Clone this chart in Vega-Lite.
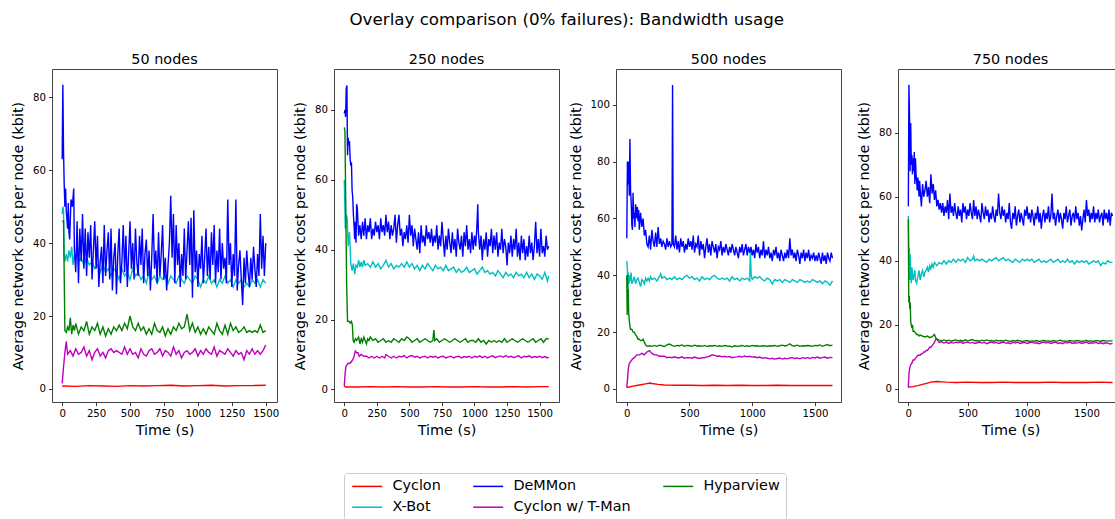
{
"$schema": "https://vega.github.io/schema/vega-lite/v6.json",
"background": "white",
"padding": {"left": 10, "top": 12, "right": 0, "bottom": 0},
"title": {"text": "Overlay comparison (0% failures): Bandwidth usage", "fontSize": 16.7, "font": "DejaVu Sans", "fontWeight": "normal", "color": "#000", "anchor": "middle", "offset": 22},
"datasets": {
"p50": [
{"s":"Cyclon","t":0,"v":0.6},{"s":"Cyclon","t":10,"v":0.8},{"s":"Cyclon","t":100,"v":0.7},{"s":"Cyclon","t":200,"v":0.9},{"s":"Cyclon","t":300,"v":0.8},{"s":"Cyclon","t":400,"v":0.7},{"s":"Cyclon","t":500,"v":0.9},{"s":"Cyclon","t":600,"v":0.8},{"s":"Cyclon","t":700,"v":0.9},{"s":"Cyclon","t":800,"v":1.0},{"s":"Cyclon","t":900,"v":0.8},{"s":"Cyclon","t":1000,"v":0.9},{"s":"Cyclon","t":1100,"v":1.0},{"s":"Cyclon","t":1200,"v":0.8},{"s":"Cyclon","t":1300,"v":0.9},{"s":"Cyclon","t":1400,"v":0.9},{"s":"Cyclon","t":1500,"v":1.0},
{"s":"X-Bot","t":0,"v":48},{"s":"X-Bot","t":5,"v":50},{"s":"X-Bot","t":10,"v":49},{"s":"X-Bot","t":15,"v":36},{"s":"X-Bot","t":20,"v":35},{"s":"X-Bot","t":30,"v":37},{"s":"X-Bot","t":40,"v":35},{"s":"X-Bot","t":50,"v":38},{"s":"X-Bot","t":60,"v":36},{"s":"X-Bot","t":70,"v":39},{"s":"X-Bot","t":80,"v":34},{"s":"X-Bot","t":90,"v":37},{"s":"X-Bot","t":100,"v":36},{"s":"X-Bot","t":110,"v":38},{"s":"X-Bot","t":120,"v":35},{"s":"X-Bot","t":140,"v":36},{"s":"X-Bot","t":160,"v":34},{"s":"X-Bot","t":180,"v":36},{"s":"X-Bot","t":200,"v":34},{"s":"X-Bot","t":220,"v":35},{"s":"X-Bot","t":240,"v":33},{"s":"X-Bot","t":260,"v":34},{"s":"X-Bot","t":280,"v":32},{"s":"X-Bot","t":300,"v":34},{"s":"X-Bot","t":320,"v":32},{"s":"X-Bot","t":340,"v":33},{"s":"X-Bot","t":360,"v":31},{"s":"X-Bot","t":380,"v":33},{"s":"X-Bot","t":400,"v":32},{"s":"X-Bot","t":420,"v":30},{"s":"X-Bot","t":440,"v":33},{"s":"X-Bot","t":460,"v":31},{"s":"X-Bot","t":480,"v":32},{"s":"X-Bot","t":500,"v":30},{"s":"X-Bot","t":520,"v":33},{"s":"X-Bot","t":540,"v":31},{"s":"X-Bot","t":560,"v":32},{"s":"X-Bot","t":580,"v":30},{"s":"X-Bot","t":600,"v":31},{"s":"X-Bot","t":620,"v":29},{"s":"X-Bot","t":640,"v":32},{"s":"X-Bot","t":660,"v":30},{"s":"X-Bot","t":680,"v":31},{"s":"X-Bot","t":700,"v":29},{"s":"X-Bot","t":720,"v":31},{"s":"X-Bot","t":740,"v":30},{"s":"X-Bot","t":760,"v":31},{"s":"X-Bot","t":780,"v":29},{"s":"X-Bot","t":800,"v":31},{"s":"X-Bot","t":820,"v":30},{"s":"X-Bot","t":840,"v":29},{"s":"X-Bot","t":860,"v":31},{"s":"X-Bot","t":880,"v":30},{"s":"X-Bot","t":900,"v":29},{"s":"X-Bot","t":920,"v":31},{"s":"X-Bot","t":940,"v":30},{"s":"X-Bot","t":960,"v":29},{"s":"X-Bot","t":980,"v":31},{"s":"X-Bot","t":1000,"v":30},{"s":"X-Bot","t":1020,"v":28},{"s":"X-Bot","t":1040,"v":30},{"s":"X-Bot","t":1060,"v":29},{"s":"X-Bot","t":1080,"v":31},{"s":"X-Bot","t":1100,"v":29},{"s":"X-Bot","t":1120,"v":30},{"s":"X-Bot","t":1140,"v":28},{"s":"X-Bot","t":1160,"v":30},{"s":"X-Bot","t":1180,"v":29},{"s":"X-Bot","t":1200,"v":31},{"s":"X-Bot","t":1220,"v":29},{"s":"X-Bot","t":1240,"v":30},{"s":"X-Bot","t":1260,"v":28},{"s":"X-Bot","t":1280,"v":30},{"s":"X-Bot","t":1300,"v":29},{"s":"X-Bot","t":1320,"v":30},{"s":"X-Bot","t":1340,"v":28},{"s":"X-Bot","t":1360,"v":29},{"s":"X-Bot","t":1380,"v":28},{"s":"X-Bot","t":1400,"v":30},{"s":"X-Bot","t":1420,"v":29},{"s":"X-Bot","t":1440,"v":30},{"s":"X-Bot","t":1460,"v":28},{"s":"X-Bot","t":1480,"v":30},{"s":"X-Bot","t":1500,"v":29},
{"s":"DeMMon","t":0,"v":63},{"s":"DeMMon","t":5,"v":83.5},{"s":"DeMMon","t":10,"v":65},{"s":"DeMMon","t":15,"v":56},{"s":"DeMMon","t":20,"v":50},{"s":"DeMMon","t":25,"v":55},{"s":"DeMMon","t":30,"v":49},{"s":"DeMMon","t":40,"v":44},{"s":"DeMMon","t":45,"v":51},{"s":"DeMMon","t":50,"v":43},{"s":"DeMMon","t":55,"v":41},{"s":"DeMMon","t":65,"v":52},{"s":"DeMMon","t":75,"v":50},{"s":"DeMMon","t":85,"v":55},{"s":"DeMMon","t":90,"v":38},{"s":"DeMMon","t":100,"v":32},{"s":"DeMMon","t":110,"v":46},{"s":"DeMMon","t":120,"v":29},{"s":"DeMMon","t":130,"v":44},{"s":"DeMMon","t":140,"v":35},{"s":"DeMMon","t":150,"v":48},{"s":"DeMMon","t":160,"v":33},{"s":"DeMMon","t":170,"v":44},{"s":"DeMMon","t":180,"v":31},{"s":"DeMMon","t":190,"v":43},{"s":"DeMMon","t":200,"v":36},{"s":"DeMMon","t":210,"v":45},{"s":"DeMMon","t":220,"v":30},{"s":"DeMMon","t":230,"v":38},{"s":"DeMMon","t":240,"v":46},{"s":"DeMMon","t":250,"v":33},{"s":"DeMMon","t":260,"v":42},{"s":"DeMMon","t":270,"v":28},{"s":"DeMMon","t":280,"v":35},{"s":"DeMMon","t":290,"v":39},{"s":"DeMMon","t":300,"v":29},{"s":"DeMMon","t":310,"v":45},{"s":"DeMMon","t":320,"v":31},{"s":"DeMMon","t":330,"v":38},{"s":"DeMMon","t":340,"v":43},{"s":"DeMMon","t":350,"v":30},{"s":"DeMMon","t":360,"v":44},{"s":"DeMMon","t":370,"v":27},{"s":"DeMMon","t":380,"v":36},{"s":"DeMMon","t":390,"v":40},{"s":"DeMMon","t":400,"v":26},{"s":"DeMMon","t":410,"v":37},{"s":"DeMMon","t":420,"v":44},{"s":"DeMMon","t":430,"v":29},{"s":"DeMMon","t":440,"v":35},{"s":"DeMMon","t":450,"v":45},{"s":"DeMMon","t":460,"v":32},{"s":"DeMMon","t":470,"v":42},{"s":"DeMMon","t":480,"v":28},{"s":"DeMMon","t":490,"v":37},{"s":"DeMMon","t":500,"v":46},{"s":"DeMMon","t":510,"v":33},{"s":"DeMMon","t":520,"v":40},{"s":"DeMMon","t":530,"v":30},{"s":"DeMMon","t":540,"v":44},{"s":"DeMMon","t":550,"v":35},{"s":"DeMMon","t":560,"v":31},{"s":"DeMMon","t":570,"v":42},{"s":"DeMMon","t":580,"v":34},{"s":"DeMMon","t":590,"v":44},{"s":"DeMMon","t":600,"v":29},{"s":"DeMMon","t":610,"v":37},{"s":"DeMMon","t":620,"v":41},{"s":"DeMMon","t":630,"v":31},{"s":"DeMMon","t":640,"v":38},{"s":"DeMMon","t":650,"v":27},{"s":"DeMMon","t":660,"v":36},{"s":"DeMMon","t":670,"v":48},{"s":"DeMMon","t":680,"v":33},{"s":"DeMMon","t":690,"v":38},{"s":"DeMMon","t":700,"v":29},{"s":"DeMMon","t":710,"v":43},{"s":"DeMMon","t":720,"v":31},{"s":"DeMMon","t":730,"v":37},{"s":"DeMMon","t":740,"v":45},{"s":"DeMMon","t":750,"v":30},{"s":"DeMMon","t":760,"v":36},{"s":"DeMMon","t":770,"v":27},{"s":"DeMMon","t":780,"v":34},{"s":"DeMMon","t":790,"v":40},{"s":"DeMMon","t":800,"v":53},{"s":"DeMMon","t":810,"v":36},{"s":"DeMMon","t":820,"v":48},{"s":"DeMMon","t":830,"v":29},{"s":"DeMMon","t":840,"v":45},{"s":"DeMMon","t":850,"v":34},{"s":"DeMMon","t":860,"v":40},{"s":"DeMMon","t":870,"v":28},{"s":"DeMMon","t":880,"v":37},{"s":"DeMMon","t":890,"v":31},{"s":"DeMMon","t":900,"v":44},{"s":"DeMMon","t":910,"v":30},{"s":"DeMMon","t":920,"v":38},{"s":"DeMMon","t":930,"v":46},{"s":"DeMMon","t":940,"v":34},{"s":"DeMMon","t":950,"v":47},{"s":"DeMMon","t":960,"v":25},{"s":"DeMMon","t":970,"v":49},{"s":"DeMMon","t":980,"v":32},{"s":"DeMMon","t":990,"v":38},{"s":"DeMMon","t":1000,"v":28},{"s":"DeMMon","t":1010,"v":37},{"s":"DeMMon","t":1020,"v":33},{"s":"DeMMon","t":1030,"v":42},{"s":"DeMMon","t":1040,"v":29},{"s":"DeMMon","t":1050,"v":36},{"s":"DeMMon","t":1060,"v":44},{"s":"DeMMon","t":1070,"v":31},{"s":"DeMMon","t":1080,"v":39},{"s":"DeMMon","t":1090,"v":30},{"s":"DeMMon","t":1100,"v":43},{"s":"DeMMon","t":1110,"v":34},{"s":"DeMMon","t":1120,"v":45},{"s":"DeMMon","t":1130,"v":29},{"s":"DeMMon","t":1140,"v":38},{"s":"DeMMon","t":1150,"v":32},{"s":"DeMMon","t":1160,"v":44},{"s":"DeMMon","t":1170,"v":30},{"s":"DeMMon","t":1180,"v":40},{"s":"DeMMon","t":1190,"v":33},{"s":"DeMMon","t":1200,"v":36},{"s":"DeMMon","t":1210,"v":29},{"s":"DeMMon","t":1220,"v":52},{"s":"DeMMon","t":1230,"v":34},{"s":"DeMMon","t":1240,"v":40},{"s":"DeMMon","t":1250,"v":28},{"s":"DeMMon","t":1260,"v":37},{"s":"DeMMon","t":1270,"v":31},{"s":"DeMMon","t":1280,"v":52},{"s":"DeMMon","t":1290,"v":27},{"s":"DeMMon","t":1300,"v":34},{"s":"DeMMon","t":1310,"v":38},{"s":"DeMMon","t":1320,"v":30},{"s":"DeMMon","t":1330,"v":23},{"s":"DeMMon","t":1340,"v":36},{"s":"DeMMon","t":1350,"v":29},{"s":"DeMMon","t":1360,"v":38},{"s":"DeMMon","t":1370,"v":32},{"s":"DeMMon","t":1380,"v":28},{"s":"DeMMon","t":1390,"v":36},{"s":"DeMMon","t":1400,"v":30},{"s":"DeMMon","t":1410,"v":39},{"s":"DeMMon","t":1420,"v":33},{"s":"DeMMon","t":1430,"v":28},{"s":"DeMMon","t":1440,"v":37},{"s":"DeMMon","t":1450,"v":31},{"s":"DeMMon","t":1460,"v":48},{"s":"DeMMon","t":1470,"v":33},{"s":"DeMMon","t":1480,"v":42},{"s":"DeMMon","t":1490,"v":31},{"s":"DeMMon","t":1500,"v":40},
{"s":"Cyclon w/ T-Man","t":0,"v":1.5},{"s":"Cyclon w/ T-Man","t":10,"v":6},{"s":"Cyclon w/ T-Man","t":20,"v":10},{"s":"Cyclon w/ T-Man","t":30,"v":13},{"s":"Cyclon w/ T-Man","t":40,"v":9.5},{"s":"Cyclon w/ T-Man","t":60,"v":10.5},{"s":"Cyclon w/ T-Man","t":80,"v":9},{"s":"Cyclon w/ T-Man","t":100,"v":11},{"s":"Cyclon w/ T-Man","t":120,"v":9.5},{"s":"Cyclon w/ T-Man","t":140,"v":10},{"s":"Cyclon w/ T-Man","t":160,"v":11.5},{"s":"Cyclon w/ T-Man","t":180,"v":9},{"s":"Cyclon w/ T-Man","t":200,"v":10.5},{"s":"Cyclon w/ T-Man","t":220,"v":8},{"s":"Cyclon w/ T-Man","t":240,"v":10},{"s":"Cyclon w/ T-Man","t":260,"v":11},{"s":"Cyclon w/ T-Man","t":280,"v":9},{"s":"Cyclon w/ T-Man","t":300,"v":10},{"s":"Cyclon w/ T-Man","t":320,"v":8.5},{"s":"Cyclon w/ T-Man","t":340,"v":10.5},{"s":"Cyclon w/ T-Man","t":360,"v":11},{"s":"Cyclon w/ T-Man","t":380,"v":10},{"s":"Cyclon w/ T-Man","t":400,"v":10.5},{"s":"Cyclon w/ T-Man","t":420,"v":10},{"s":"Cyclon w/ T-Man","t":440,"v":9.5},{"s":"Cyclon w/ T-Man","t":460,"v":11.5},{"s":"Cyclon w/ T-Man","t":480,"v":9.5},{"s":"Cyclon w/ T-Man","t":500,"v":11},{"s":"Cyclon w/ T-Man","t":520,"v":9.5},{"s":"Cyclon w/ T-Man","t":540,"v":10},{"s":"Cyclon w/ T-Man","t":560,"v":8.5},{"s":"Cyclon w/ T-Man","t":580,"v":11},{"s":"Cyclon w/ T-Man","t":600,"v":9.5},{"s":"Cyclon w/ T-Man","t":620,"v":9},{"s":"Cyclon w/ T-Man","t":640,"v":10.5},{"s":"Cyclon w/ T-Man","t":660,"v":11},{"s":"Cyclon w/ T-Man","t":680,"v":9.5},{"s":"Cyclon w/ T-Man","t":700,"v":10},{"s":"Cyclon w/ T-Man","t":720,"v":11},{"s":"Cyclon w/ T-Man","t":740,"v":9},{"s":"Cyclon w/ T-Man","t":760,"v":10.5},{"s":"Cyclon w/ T-Man","t":780,"v":10},{"s":"Cyclon w/ T-Man","t":800,"v":9},{"s":"Cyclon w/ T-Man","t":820,"v":11.5},{"s":"Cyclon w/ T-Man","t":840,"v":9.5},{"s":"Cyclon w/ T-Man","t":860,"v":10.5},{"s":"Cyclon w/ T-Man","t":880,"v":8.5},{"s":"Cyclon w/ T-Man","t":900,"v":10},{"s":"Cyclon w/ T-Man","t":920,"v":10.5},{"s":"Cyclon w/ T-Man","t":940,"v":9.5},{"s":"Cyclon w/ T-Man","t":960,"v":10},{"s":"Cyclon w/ T-Man","t":980,"v":11},{"s":"Cyclon w/ T-Man","t":1000,"v":9},{"s":"Cyclon w/ T-Man","t":1020,"v":10.5},{"s":"Cyclon w/ T-Man","t":1040,"v":9.5},{"s":"Cyclon w/ T-Man","t":1060,"v":11},{"s":"Cyclon w/ T-Man","t":1080,"v":10},{"s":"Cyclon w/ T-Man","t":1100,"v":9.5},{"s":"Cyclon w/ T-Man","t":1120,"v":11.5},{"s":"Cyclon w/ T-Man","t":1140,"v":9},{"s":"Cyclon w/ T-Man","t":1160,"v":10.5},{"s":"Cyclon w/ T-Man","t":1180,"v":10},{"s":"Cyclon w/ T-Man","t":1200,"v":9.5},{"s":"Cyclon w/ T-Man","t":1220,"v":11},{"s":"Cyclon w/ T-Man","t":1240,"v":10},{"s":"Cyclon w/ T-Man","t":1260,"v":9},{"s":"Cyclon w/ T-Man","t":1280,"v":10.5},{"s":"Cyclon w/ T-Man","t":1300,"v":9.5},{"s":"Cyclon w/ T-Man","t":1320,"v":10},{"s":"Cyclon w/ T-Man","t":1340,"v":8},{"s":"Cyclon w/ T-Man","t":1360,"v":10.5},{"s":"Cyclon w/ T-Man","t":1380,"v":9.5},{"s":"Cyclon w/ T-Man","t":1400,"v":11},{"s":"Cyclon w/ T-Man","t":1420,"v":9.5},{"s":"Cyclon w/ T-Man","t":1440,"v":10.5},{"s":"Cyclon w/ T-Man","t":1460,"v":9.5},{"s":"Cyclon w/ T-Man","t":1480,"v":10.5},{"s":"Cyclon w/ T-Man","t":1500,"v":12},
{"s":"Hyparview","t":0,"v":46},{"s":"Hyparview","t":10,"v":46},{"s":"Hyparview","t":20,"v":16},{"s":"Hyparview","t":30,"v":15.5},{"s":"Hyparview","t":40,"v":17},{"s":"Hyparview","t":50,"v":16},{"s":"Hyparview","t":60,"v":19.5},{"s":"Hyparview","t":70,"v":15},{"s":"Hyparview","t":80,"v":17.5},{"s":"Hyparview","t":90,"v":16},{"s":"Hyparview","t":100,"v":18},{"s":"Hyparview","t":120,"v":15},{"s":"Hyparview","t":140,"v":17},{"s":"Hyparview","t":160,"v":16},{"s":"Hyparview","t":180,"v":18.5},{"s":"Hyparview","t":200,"v":15},{"s":"Hyparview","t":220,"v":17},{"s":"Hyparview","t":240,"v":16},{"s":"Hyparview","t":260,"v":18},{"s":"Hyparview","t":280,"v":15},{"s":"Hyparview","t":300,"v":17},{"s":"Hyparview","t":320,"v":14.5},{"s":"Hyparview","t":340,"v":16.5},{"s":"Hyparview","t":360,"v":15},{"s":"Hyparview","t":380,"v":17},{"s":"Hyparview","t":400,"v":16},{"s":"Hyparview","t":420,"v":17.5},{"s":"Hyparview","t":440,"v":16},{"s":"Hyparview","t":460,"v":18},{"s":"Hyparview","t":480,"v":16.5},{"s":"Hyparview","t":500,"v":20},{"s":"Hyparview","t":520,"v":17},{"s":"Hyparview","t":540,"v":16},{"s":"Hyparview","t":560,"v":18},{"s":"Hyparview","t":580,"v":16},{"s":"Hyparview","t":600,"v":17},{"s":"Hyparview","t":620,"v":15},{"s":"Hyparview","t":640,"v":16.5},{"s":"Hyparview","t":660,"v":15},{"s":"Hyparview","t":680,"v":18},{"s":"Hyparview","t":700,"v":16},{"s":"Hyparview","t":720,"v":15.5},{"s":"Hyparview","t":740,"v":17},{"s":"Hyparview","t":760,"v":14.5},{"s":"Hyparview","t":780,"v":16.5},{"s":"Hyparview","t":800,"v":15},{"s":"Hyparview","t":820,"v":17},{"s":"Hyparview","t":840,"v":16},{"s":"Hyparview","t":860,"v":18},{"s":"Hyparview","t":880,"v":16.5},{"s":"Hyparview","t":900,"v":17},{"s":"Hyparview","t":920,"v":20.5},{"s":"Hyparview","t":940,"v":16},{"s":"Hyparview","t":960,"v":18},{"s":"Hyparview","t":980,"v":15.5},{"s":"Hyparview","t":1000,"v":17},{"s":"Hyparview","t":1020,"v":15},{"s":"Hyparview","t":1040,"v":16.5},{"s":"Hyparview","t":1060,"v":15},{"s":"Hyparview","t":1080,"v":17},{"s":"Hyparview","t":1100,"v":16},{"s":"Hyparview","t":1120,"v":15},{"s":"Hyparview","t":1140,"v":18},{"s":"Hyparview","t":1160,"v":16},{"s":"Hyparview","t":1180,"v":15},{"s":"Hyparview","t":1200,"v":17.5},{"s":"Hyparview","t":1220,"v":15},{"s":"Hyparview","t":1240,"v":18},{"s":"Hyparview","t":1260,"v":16},{"s":"Hyparview","t":1280,"v":17},{"s":"Hyparview","t":1300,"v":15.5},{"s":"Hyparview","t":1320,"v":16},{"s":"Hyparview","t":1340,"v":17},{"s":"Hyparview","t":1360,"v":15.5},{"s":"Hyparview","t":1380,"v":16},{"s":"Hyparview","t":1400,"v":15.5},{"s":"Hyparview","t":1420,"v":16},{"s":"Hyparview","t":1440,"v":15.5},{"s":"Hyparview","t":1460,"v":17.5},{"s":"Hyparview","t":1480,"v":15.5},{"s":"Hyparview","t":1500,"v":16}
],
"p250": [
{"s":"Cyclon","t":0,"v":1.0},{"s":"Cyclon","t":10,"v":0.7},{"s":"Cyclon","t":100,"v":0.7},{"s":"Cyclon","t":200,"v":0.8},{"s":"Cyclon","t":300,"v":0.7},{"s":"Cyclon","t":400,"v":0.8},{"s":"Cyclon","t":500,"v":0.7},{"s":"Cyclon","t":600,"v":0.7},{"s":"Cyclon","t":700,"v":0.8},{"s":"Cyclon","t":800,"v":0.7},{"s":"Cyclon","t":900,"v":0.7},{"s":"Cyclon","t":1000,"v":0.8},{"s":"Cyclon","t":1100,"v":0.7},{"s":"Cyclon","t":1200,"v":0.7},{"s":"Cyclon","t":1300,"v":0.8},{"s":"Cyclon","t":1400,"v":0.7},{"s":"Cyclon","t":1500,"v":0.8},{"s":"Cyclon","t":1570,"v":0.8},
{"s":"X-Bot","t":0,"v":60},{"s":"X-Bot","t":8,"v":46},{"s":"X-Bot","t":15,"v":50},{"s":"X-Bot","t":22,"v":49},{"s":"X-Bot","t":30,"v":41},{"s":"X-Bot","t":40,"v":45},{"s":"X-Bot","t":50,"v":36},{"s":"X-Bot","t":60,"v":34},{"s":"X-Bot","t":70,"v":36},{"s":"X-Bot","t":80,"v":33},{"s":"X-Bot","t":90,"v":35.5},{"s":"X-Bot","t":100,"v":35},{"s":"X-Bot","t":110,"v":37},{"s":"X-Bot","t":120,"v":35},{"s":"X-Bot","t":130,"v":36.5},{"s":"X-Bot","t":140,"v":35},{"s":"X-Bot","t":150,"v":37},{"s":"X-Bot","t":160,"v":35.5},{"s":"X-Bot","t":180,"v":36},{"s":"X-Bot","t":200,"v":35},{"s":"X-Bot","t":220,"v":36.5},{"s":"X-Bot","t":240,"v":35},{"s":"X-Bot","t":260,"v":36},{"s":"X-Bot","t":280,"v":34.5},{"s":"X-Bot","t":300,"v":35.5},{"s":"X-Bot","t":320,"v":37},{"s":"X-Bot","t":340,"v":35},{"s":"X-Bot","t":360,"v":36},{"s":"X-Bot","t":380,"v":34.5},{"s":"X-Bot","t":400,"v":35.5},{"s":"X-Bot","t":420,"v":35},{"s":"X-Bot","t":440,"v":36},{"s":"X-Bot","t":460,"v":35},{"s":"X-Bot","t":480,"v":36.5},{"s":"X-Bot","t":500,"v":35},{"s":"X-Bot","t":520,"v":36},{"s":"X-Bot","t":540,"v":34.5},{"s":"X-Bot","t":560,"v":35.5},{"s":"X-Bot","t":580,"v":34},{"s":"X-Bot","t":600,"v":35.5},{"s":"X-Bot","t":620,"v":34.5},{"s":"X-Bot","t":640,"v":36},{"s":"X-Bot","t":660,"v":35},{"s":"X-Bot","t":680,"v":34},{"s":"X-Bot","t":700,"v":35.5},{"s":"X-Bot","t":720,"v":34.5},{"s":"X-Bot","t":740,"v":35},{"s":"X-Bot","t":760,"v":34},{"s":"X-Bot","t":780,"v":35.5},{"s":"X-Bot","t":800,"v":34},{"s":"X-Bot","t":820,"v":34.5},{"s":"X-Bot","t":840,"v":35},{"s":"X-Bot","t":860,"v":33.5},{"s":"X-Bot","t":880,"v":34.5},{"s":"X-Bot","t":900,"v":33.5},{"s":"X-Bot","t":920,"v":34},{"s":"X-Bot","t":940,"v":35},{"s":"X-Bot","t":960,"v":33.5},{"s":"X-Bot","t":980,"v":34},{"s":"X-Bot","t":1000,"v":34.5},{"s":"X-Bot","t":1020,"v":33},{"s":"X-Bot","t":1040,"v":34},{"s":"X-Bot","t":1060,"v":35},{"s":"X-Bot","t":1080,"v":33.5},{"s":"X-Bot","t":1100,"v":34},{"s":"X-Bot","t":1120,"v":33},{"s":"X-Bot","t":1140,"v":33.5},{"s":"X-Bot","t":1160,"v":32.5},{"s":"X-Bot","t":1180,"v":34},{"s":"X-Bot","t":1200,"v":33},{"s":"X-Bot","t":1220,"v":32},{"s":"X-Bot","t":1240,"v":33.5},{"s":"X-Bot","t":1260,"v":32.5},{"s":"X-Bot","t":1280,"v":33},{"s":"X-Bot","t":1300,"v":32},{"s":"X-Bot","t":1320,"v":33.5},{"s":"X-Bot","t":1340,"v":32.5},{"s":"X-Bot","t":1360,"v":33},{"s":"X-Bot","t":1380,"v":32},{"s":"X-Bot","t":1400,"v":33.5},{"s":"X-Bot","t":1420,"v":32},{"s":"X-Bot","t":1440,"v":33},{"s":"X-Bot","t":1460,"v":31.5},{"s":"X-Bot","t":1480,"v":33},{"s":"X-Bot","t":1500,"v":32.5},{"s":"X-Bot","t":1520,"v":31.5},{"s":"X-Bot","t":1540,"v":33.5},{"s":"X-Bot","t":1560,"v":31},{"s":"X-Bot","t":1570,"v":32.5},
{"s":"DeMMon","t":0,"v":79},{"s":"DeMMon","t":5,"v":80},{"s":"DeMMon","t":10,"v":78},{"s":"DeMMon","t":15,"v":86},{"s":"DeMMon","t":20,"v":87},{"s":"DeMMon","t":25,"v":67},{"s":"DeMMon","t":30,"v":72},{"s":"DeMMon","t":35,"v":70},{"s":"DeMMon","t":40,"v":71},{"s":"DeMMon","t":45,"v":66},{"s":"DeMMon","t":50,"v":64},{"s":"DeMMon","t":55,"v":65},{"s":"DeMMon","t":60,"v":57},{"s":"DeMMon","t":65,"v":55},{"s":"DeMMon","t":70,"v":50},{"s":"DeMMon","t":75,"v":47},{"s":"DeMMon","t":80,"v":43},{"s":"DeMMon","t":85,"v":48},{"s":"DeMMon","t":90,"v":42},{"s":"DeMMon","t":95,"v":53},{"s":"DeMMon","t":100,"v":52},{"s":"DeMMon","t":110,"v":44},{"s":"DeMMon","t":120,"v":47},{"s":"DeMMon","t":130,"v":43},{"s":"DeMMon","t":140,"v":48},{"s":"DeMMon","t":150,"v":44},{"s":"DeMMon","t":160,"v":49},{"s":"DeMMon","t":170,"v":43},{"s":"DeMMon","t":180,"v":47},{"s":"DeMMon","t":190,"v":45},{"s":"DeMMon","t":200,"v":49},{"s":"DeMMon","t":210,"v":43},{"s":"DeMMon","t":220,"v":46},{"s":"DeMMon","t":230,"v":44},{"s":"DeMMon","t":240,"v":48},{"s":"DeMMon","t":250,"v":45},{"s":"DeMMon","t":260,"v":47},{"s":"DeMMon","t":270,"v":43},{"s":"DeMMon","t":280,"v":49},{"s":"DeMMon","t":290,"v":45},{"s":"DeMMon","t":300,"v":47},{"s":"DeMMon","t":310,"v":44},{"s":"DeMMon","t":320,"v":50},{"s":"DeMMon","t":330,"v":45},{"s":"DeMMon","t":340,"v":48},{"s":"DeMMon","t":350,"v":43},{"s":"DeMMon","t":360,"v":47},{"s":"DeMMon","t":370,"v":44},{"s":"DeMMon","t":380,"v":46},{"s":"DeMMon","t":390,"v":50},{"s":"DeMMon","t":400,"v":42},{"s":"DeMMon","t":410,"v":47},{"s":"DeMMon","t":420,"v":50},{"s":"DeMMon","t":430,"v":44},{"s":"DeMMon","t":440,"v":46},{"s":"DeMMon","t":450,"v":41},{"s":"DeMMon","t":460,"v":45},{"s":"DeMMon","t":470,"v":43},{"s":"DeMMon","t":480,"v":47},{"s":"DeMMon","t":490,"v":42},{"s":"DeMMon","t":500,"v":50},{"s":"DeMMon","t":510,"v":44},{"s":"DeMMon","t":520,"v":47},{"s":"DeMMon","t":530,"v":41},{"s":"DeMMon","t":540,"v":46},{"s":"DeMMon","t":550,"v":43},{"s":"DeMMon","t":560,"v":40},{"s":"DeMMon","t":570,"v":45},{"s":"DeMMon","t":580,"v":39},{"s":"DeMMon","t":590,"v":47},{"s":"DeMMon","t":600,"v":42},{"s":"DeMMon","t":610,"v":44},{"s":"DeMMon","t":620,"v":41},{"s":"DeMMon","t":630,"v":47},{"s":"DeMMon","t":640,"v":43},{"s":"DeMMon","t":650,"v":45},{"s":"DeMMon","t":660,"v":42},{"s":"DeMMon","t":670,"v":46},{"s":"DeMMon","t":680,"v":41},{"s":"DeMMon","t":690,"v":44},{"s":"DeMMon","t":700,"v":42},{"s":"DeMMon","t":710,"v":47},{"s":"DeMMon","t":720,"v":40},{"s":"DeMMon","t":730,"v":44},{"s":"DeMMon","t":740,"v":41},{"s":"DeMMon","t":750,"v":48},{"s":"DeMMon","t":760,"v":43},{"s":"DeMMon","t":770,"v":38},{"s":"DeMMon","t":780,"v":44},{"s":"DeMMon","t":790,"v":40},{"s":"DeMMon","t":800,"v":46},{"s":"DeMMon","t":810,"v":42},{"s":"DeMMon","t":820,"v":39},{"s":"DeMMon","t":830,"v":45},{"s":"DeMMon","t":840,"v":40},{"s":"DeMMon","t":850,"v":43},{"s":"DeMMon","t":860,"v":38},{"s":"DeMMon","t":870,"v":46},{"s":"DeMMon","t":880,"v":42},{"s":"DeMMon","t":890,"v":40},{"s":"DeMMon","t":900,"v":44},{"s":"DeMMon","t":910,"v":38},{"s":"DeMMon","t":920,"v":45},{"s":"DeMMon","t":930,"v":41},{"s":"DeMMon","t":940,"v":47},{"s":"DeMMon","t":950,"v":40},{"s":"DeMMon","t":960,"v":43},{"s":"DeMMon","t":970,"v":39},{"s":"DeMMon","t":980,"v":45},{"s":"DeMMon","t":990,"v":40},{"s":"DeMMon","t":1000,"v":44},{"s":"DeMMon","t":1010,"v":41},{"s":"DeMMon","t":1020,"v":48},{"s":"DeMMon","t":1025,"v":53},{"s":"DeMMon","t":1030,"v":45},{"s":"DeMMon","t":1040,"v":40},{"s":"DeMMon","t":1050,"v":44},{"s":"DeMMon","t":1060,"v":37},{"s":"DeMMon","t":1070,"v":43},{"s":"DeMMon","t":1080,"v":40},{"s":"DeMMon","t":1090,"v":45},{"s":"DeMMon","t":1100,"v":38},{"s":"DeMMon","t":1110,"v":43},{"s":"DeMMon","t":1120,"v":41},{"s":"DeMMon","t":1130,"v":46},{"s":"DeMMon","t":1140,"v":39},{"s":"DeMMon","t":1150,"v":44},{"s":"DeMMon","t":1160,"v":40},{"s":"DeMMon","t":1170,"v":45},{"s":"DeMMon","t":1180,"v":38},{"s":"DeMMon","t":1190,"v":42},{"s":"DeMMon","t":1200,"v":40},{"s":"DeMMon","t":1210,"v":46},{"s":"DeMMon","t":1220,"v":39},{"s":"DeMMon","t":1230,"v":43},{"s":"DeMMon","t":1240,"v":41},{"s":"DeMMon","t":1250,"v":35.5},{"s":"DeMMon","t":1260,"v":42},{"s":"DeMMon","t":1270,"v":39},{"s":"DeMMon","t":1280,"v":44},{"s":"DeMMon","t":1290,"v":38},{"s":"DeMMon","t":1300,"v":43},{"s":"DeMMon","t":1310,"v":40},{"s":"DeMMon","t":1320,"v":46},{"s":"DeMMon","t":1330,"v":38},{"s":"DeMMon","t":1340,"v":42},{"s":"DeMMon","t":1350,"v":37},{"s":"DeMMon","t":1360,"v":44},{"s":"DeMMon","t":1370,"v":39},{"s":"DeMMon","t":1380,"v":43},{"s":"DeMMon","t":1390,"v":37},{"s":"DeMMon","t":1400,"v":41},{"s":"DeMMon","t":1410,"v":38},{"s":"DeMMon","t":1420,"v":44},{"s":"DeMMon","t":1430,"v":39},{"s":"DeMMon","t":1440,"v":42},{"s":"DeMMon","t":1450,"v":37},{"s":"DeMMon","t":1460,"v":41},{"s":"DeMMon","t":1470,"v":48},{"s":"DeMMon","t":1480,"v":39},{"s":"DeMMon","t":1490,"v":43},{"s":"DeMMon","t":1500,"v":38},{"s":"DeMMon","t":1510,"v":46},{"s":"DeMMon","t":1520,"v":39},{"s":"DeMMon","t":1530,"v":41},{"s":"DeMMon","t":1540,"v":38},{"s":"DeMMon","t":1550,"v":44},{"s":"DeMMon","t":1560,"v":40},{"s":"DeMMon","t":1570,"v":41},
{"s":"Cyclon w/ T-Man","t":0,"v":1},{"s":"Cyclon w/ T-Man","t":5,"v":4},{"s":"Cyclon w/ T-Man","t":12,"v":6.5},{"s":"Cyclon w/ T-Man","t":20,"v":7},{"s":"Cyclon w/ T-Man","t":30,"v":7.5},{"s":"Cyclon w/ T-Man","t":45,"v":7.5},{"s":"Cyclon w/ T-Man","t":55,"v":8},{"s":"Cyclon w/ T-Man","t":65,"v":8.5},{"s":"Cyclon w/ T-Man","t":75,"v":9.5},{"s":"Cyclon w/ T-Man","t":85,"v":11},{"s":"Cyclon w/ T-Man","t":95,"v":10.5},{"s":"Cyclon w/ T-Man","t":105,"v":10.5},{"s":"Cyclon w/ T-Man","t":115,"v":9.5},{"s":"Cyclon w/ T-Man","t":130,"v":10},{"s":"Cyclon w/ T-Man","t":150,"v":9.5},{"s":"Cyclon w/ T-Man","t":170,"v":9.5},{"s":"Cyclon w/ T-Man","t":190,"v":9},{"s":"Cyclon w/ T-Man","t":210,"v":9.5},{"s":"Cyclon w/ T-Man","t":230,"v":9},{"s":"Cyclon w/ T-Man","t":250,"v":9.5},{"s":"Cyclon w/ T-Man","t":270,"v":9},{"s":"Cyclon w/ T-Man","t":290,"v":9.5},{"s":"Cyclon w/ T-Man","t":310,"v":9},{"s":"Cyclon w/ T-Man","t":320,"v":10},{"s":"Cyclon w/ T-Man","t":340,"v":9.5},{"s":"Cyclon w/ T-Man","t":360,"v":9},{"s":"Cyclon w/ T-Man","t":380,"v":9.5},{"s":"Cyclon w/ T-Man","t":400,"v":9},{"s":"Cyclon w/ T-Man","t":420,"v":9.5},{"s":"Cyclon w/ T-Man","t":440,"v":9.3},{"s":"Cyclon w/ T-Man","t":460,"v":9.7},{"s":"Cyclon w/ T-Man","t":480,"v":9},{"s":"Cyclon w/ T-Man","t":500,"v":9.5},{"s":"Cyclon w/ T-Man","t":520,"v":9.7},{"s":"Cyclon w/ T-Man","t":540,"v":9.2},{"s":"Cyclon w/ T-Man","t":560,"v":9.5},{"s":"Cyclon w/ T-Man","t":580,"v":9},{"s":"Cyclon w/ T-Man","t":600,"v":9.3},{"s":"Cyclon w/ T-Man","t":620,"v":9.5},{"s":"Cyclon w/ T-Man","t":640,"v":9},{"s":"Cyclon w/ T-Man","t":660,"v":9.5},{"s":"Cyclon w/ T-Man","t":680,"v":9.2},{"s":"Cyclon w/ T-Man","t":700,"v":9.5},{"s":"Cyclon w/ T-Man","t":720,"v":9},{"s":"Cyclon w/ T-Man","t":740,"v":9.4},{"s":"Cyclon w/ T-Man","t":760,"v":9.5},{"s":"Cyclon w/ T-Man","t":780,"v":9},{"s":"Cyclon w/ T-Man","t":800,"v":9.3},{"s":"Cyclon w/ T-Man","t":820,"v":9.5},{"s":"Cyclon w/ T-Man","t":840,"v":9},{"s":"Cyclon w/ T-Man","t":860,"v":9.4},{"s":"Cyclon w/ T-Man","t":880,"v":9.5},{"s":"Cyclon w/ T-Man","t":900,"v":9},{"s":"Cyclon w/ T-Man","t":920,"v":9.4},{"s":"Cyclon w/ T-Man","t":940,"v":9.2},{"s":"Cyclon w/ T-Man","t":960,"v":9.5},{"s":"Cyclon w/ T-Man","t":980,"v":9},{"s":"Cyclon w/ T-Man","t":1000,"v":9.5},{"s":"Cyclon w/ T-Man","t":1020,"v":9.2},{"s":"Cyclon w/ T-Man","t":1040,"v":9.6},{"s":"Cyclon w/ T-Man","t":1060,"v":9.1},{"s":"Cyclon w/ T-Man","t":1080,"v":9.5},{"s":"Cyclon w/ T-Man","t":1100,"v":9},{"s":"Cyclon w/ T-Man","t":1120,"v":9.4},{"s":"Cyclon w/ T-Man","t":1140,"v":9.6},{"s":"Cyclon w/ T-Man","t":1160,"v":9.1},{"s":"Cyclon w/ T-Man","t":1180,"v":9.4},{"s":"Cyclon w/ T-Man","t":1200,"v":9.6},{"s":"Cyclon w/ T-Man","t":1220,"v":9.2},{"s":"Cyclon w/ T-Man","t":1240,"v":9.7},{"s":"Cyclon w/ T-Man","t":1260,"v":9.2},{"s":"Cyclon w/ T-Man","t":1280,"v":9.5},{"s":"Cyclon w/ T-Man","t":1300,"v":9.1},{"s":"Cyclon w/ T-Man","t":1320,"v":9.4},{"s":"Cyclon w/ T-Man","t":1340,"v":9.6},{"s":"Cyclon w/ T-Man","t":1360,"v":9},{"s":"Cyclon w/ T-Man","t":1380,"v":9.5},{"s":"Cyclon w/ T-Man","t":1400,"v":9.3},{"s":"Cyclon w/ T-Man","t":1420,"v":9.6},{"s":"Cyclon w/ T-Man","t":1440,"v":9.1},{"s":"Cyclon w/ T-Man","t":1460,"v":9.4},{"s":"Cyclon w/ T-Man","t":1480,"v":9.2},{"s":"Cyclon w/ T-Man","t":1500,"v":9.5},{"s":"Cyclon w/ T-Man","t":1520,"v":9.1},{"s":"Cyclon w/ T-Man","t":1540,"v":9.4},{"s":"Cyclon w/ T-Man","t":1560,"v":9},{"s":"Cyclon w/ T-Man","t":1570,"v":9.3},
{"s":"Hyparview","t":0,"v":75},{"s":"Hyparview","t":5,"v":74},{"s":"Hyparview","t":12,"v":50},{"s":"Hyparview","t":18,"v":30},{"s":"Hyparview","t":25,"v":19.5},{"s":"Hyparview","t":35,"v":19.5},{"s":"Hyparview","t":45,"v":19},{"s":"Hyparview","t":55,"v":19.5},{"s":"Hyparview","t":62,"v":18.5},{"s":"Hyparview","t":68,"v":14},{"s":"Hyparview","t":75,"v":13.5},{"s":"Hyparview","t":85,"v":14.5},{"s":"Hyparview","t":95,"v":14},{"s":"Hyparview","t":110,"v":15},{"s":"Hyparview","t":120,"v":13},{"s":"Hyparview","t":130,"v":14.5},{"s":"Hyparview","t":140,"v":13.5},{"s":"Hyparview","t":150,"v":15},{"s":"Hyparview","t":160,"v":14},{"s":"Hyparview","t":170,"v":13},{"s":"Hyparview","t":180,"v":14.5},{"s":"Hyparview","t":190,"v":14},{"s":"Hyparview","t":200,"v":15},{"s":"Hyparview","t":220,"v":14},{"s":"Hyparview","t":240,"v":14.5},{"s":"Hyparview","t":260,"v":13.5},{"s":"Hyparview","t":280,"v":14},{"s":"Hyparview","t":300,"v":14.5},{"s":"Hyparview","t":320,"v":13.5},{"s":"Hyparview","t":340,"v":14},{"s":"Hyparview","t":360,"v":13.5},{"s":"Hyparview","t":380,"v":14.5},{"s":"Hyparview","t":400,"v":14},{"s":"Hyparview","t":420,"v":13.5},{"s":"Hyparview","t":440,"v":14.5},{"s":"Hyparview","t":460,"v":14},{"s":"Hyparview","t":480,"v":15},{"s":"Hyparview","t":500,"v":14.5},{"s":"Hyparview","t":520,"v":13.5},{"s":"Hyparview","t":540,"v":14},{"s":"Hyparview","t":560,"v":14.5},{"s":"Hyparview","t":580,"v":13.5},{"s":"Hyparview","t":600,"v":14},{"s":"Hyparview","t":620,"v":14.5},{"s":"Hyparview","t":640,"v":14},{"s":"Hyparview","t":660,"v":13.5},{"s":"Hyparview","t":680,"v":14},{"s":"Hyparview","t":688,"v":17},{"s":"Hyparview","t":695,"v":14},{"s":"Hyparview","t":710,"v":14.5},{"s":"Hyparview","t":730,"v":13.5},{"s":"Hyparview","t":750,"v":14},{"s":"Hyparview","t":770,"v":14.5},{"s":"Hyparview","t":790,"v":14},{"s":"Hyparview","t":810,"v":13.5},{"s":"Hyparview","t":830,"v":14},{"s":"Hyparview","t":850,"v":14.5},{"s":"Hyparview","t":870,"v":14},{"s":"Hyparview","t":890,"v":13.5},{"s":"Hyparview","t":910,"v":14},{"s":"Hyparview","t":930,"v":14.5},{"s":"Hyparview","t":950,"v":13.5},{"s":"Hyparview","t":970,"v":14},{"s":"Hyparview","t":990,"v":14},{"s":"Hyparview","t":1010,"v":13.5},{"s":"Hyparview","t":1030,"v":14.5},{"s":"Hyparview","t":1050,"v":13.5},{"s":"Hyparview","t":1070,"v":14},{"s":"Hyparview","t":1090,"v":13},{"s":"Hyparview","t":1110,"v":14},{"s":"Hyparview","t":1130,"v":13.5},{"s":"Hyparview","t":1150,"v":14},{"s":"Hyparview","t":1170,"v":13.5},{"s":"Hyparview","t":1190,"v":14},{"s":"Hyparview","t":1210,"v":13.5},{"s":"Hyparview","t":1230,"v":14.5},{"s":"Hyparview","t":1250,"v":13.5},{"s":"Hyparview","t":1270,"v":14},{"s":"Hyparview","t":1290,"v":14.5},{"s":"Hyparview","t":1310,"v":14},{"s":"Hyparview","t":1330,"v":13.5},{"s":"Hyparview","t":1350,"v":14},{"s":"Hyparview","t":1370,"v":14.5},{"s":"Hyparview","t":1390,"v":14},{"s":"Hyparview","t":1410,"v":13.5},{"s":"Hyparview","t":1430,"v":14},{"s":"Hyparview","t":1450,"v":14.5},{"s":"Hyparview","t":1470,"v":13.5},{"s":"Hyparview","t":1490,"v":14},{"s":"Hyparview","t":1510,"v":14.5},{"s":"Hyparview","t":1530,"v":13.5},{"s":"Hyparview","t":1550,"v":14.5},{"s":"Hyparview","t":1570,"v":14.5}
],
"p500": [
{"s":"Cyclon","t":0,"v":0.5},{"s":"Cyclon","t":10,"v":0.6},{"s":"Cyclon","t":50,"v":1.0},{"s":"Cyclon","t":100,"v":1.4},{"s":"Cyclon","t":150,"v":1.8},{"s":"Cyclon","t":185,"v":2.1},{"s":"Cyclon","t":200,"v":1.9},{"s":"Cyclon","t":250,"v":1.6},{"s":"Cyclon","t":300,"v":1.4},{"s":"Cyclon","t":400,"v":1.3},{"s":"Cyclon","t":500,"v":1.3},{"s":"Cyclon","t":600,"v":1.2},{"s":"Cyclon","t":700,"v":1.3},{"s":"Cyclon","t":800,"v":1.2},{"s":"Cyclon","t":900,"v":1.3},{"s":"Cyclon","t":1000,"v":1.2},{"s":"Cyclon","t":1100,"v":1.2},{"s":"Cyclon","t":1200,"v":1.3},{"s":"Cyclon","t":1300,"v":1.2},{"s":"Cyclon","t":1400,"v":1.2},{"s":"Cyclon","t":1500,"v":1.2},{"s":"Cyclon","t":1640,"v":1.2},
{"s":"X-Bot","t":0,"v":45},{"s":"X-Bot","t":5,"v":42},{"s":"X-Bot","t":8,"v":34},{"s":"X-Bot","t":12,"v":41},{"s":"X-Bot","t":18,"v":37},{"s":"X-Bot","t":25,"v":40},{"s":"X-Bot","t":30,"v":38},{"s":"X-Bot","t":35,"v":41},{"s":"X-Bot","t":40,"v":37},{"s":"X-Bot","t":50,"v":38},{"s":"X-Bot","t":60,"v":39.5},{"s":"X-Bot","t":70,"v":37},{"s":"X-Bot","t":80,"v":38.5},{"s":"X-Bot","t":90,"v":39},{"s":"X-Bot","t":100,"v":37.5},{"s":"X-Bot","t":110,"v":36},{"s":"X-Bot","t":120,"v":38.5},{"s":"X-Bot","t":130,"v":38},{"s":"X-Bot","t":140,"v":37},{"s":"X-Bot","t":150,"v":39},{"s":"X-Bot","t":160,"v":38},{"s":"X-Bot","t":170,"v":39},{"s":"X-Bot","t":180,"v":38},{"s":"X-Bot","t":190,"v":39.5},{"s":"X-Bot","t":200,"v":38.5},{"s":"X-Bot","t":220,"v":39},{"s":"X-Bot","t":240,"v":38},{"s":"X-Bot","t":260,"v":39.5},{"s":"X-Bot","t":270,"v":40.5},{"s":"X-Bot","t":280,"v":39},{"s":"X-Bot","t":300,"v":39.5},{"s":"X-Bot","t":320,"v":38.5},{"s":"X-Bot","t":340,"v":39},{"s":"X-Bot","t":360,"v":38.5},{"s":"X-Bot","t":380,"v":39.5},{"s":"X-Bot","t":400,"v":38.5},{"s":"X-Bot","t":420,"v":39},{"s":"X-Bot","t":440,"v":38.5},{"s":"X-Bot","t":460,"v":39.5},{"s":"X-Bot","t":480,"v":40},{"s":"X-Bot","t":500,"v":39},{"s":"X-Bot","t":520,"v":39.5},{"s":"X-Bot","t":540,"v":38.5},{"s":"X-Bot","t":560,"v":39},{"s":"X-Bot","t":580,"v":38},{"s":"X-Bot","t":600,"v":39.5},{"s":"X-Bot","t":620,"v":38.5},{"s":"X-Bot","t":640,"v":39},{"s":"X-Bot","t":660,"v":38.5},{"s":"X-Bot","t":680,"v":39.5},{"s":"X-Bot","t":700,"v":40},{"s":"X-Bot","t":720,"v":39},{"s":"X-Bot","t":740,"v":38.5},{"s":"X-Bot","t":760,"v":39},{"s":"X-Bot","t":780,"v":38.5},{"s":"X-Bot","t":800,"v":39},{"s":"X-Bot","t":820,"v":38},{"s":"X-Bot","t":840,"v":39.5},{"s":"X-Bot","t":860,"v":38.5},{"s":"X-Bot","t":880,"v":39},{"s":"X-Bot","t":900,"v":38},{"s":"X-Bot","t":920,"v":39},{"s":"X-Bot","t":940,"v":38.5},{"s":"X-Bot","t":960,"v":39},{"s":"X-Bot","t":980,"v":38},{"s":"X-Bot","t":985,"v":49},{"s":"X-Bot","t":992,"v":40},{"s":"X-Bot","t":1000,"v":38.5},{"s":"X-Bot","t":1020,"v":39.5},{"s":"X-Bot","t":1040,"v":39},{"s":"X-Bot","t":1060,"v":39.5},{"s":"X-Bot","t":1080,"v":38.5},{"s":"X-Bot","t":1100,"v":38},{"s":"X-Bot","t":1120,"v":39},{"s":"X-Bot","t":1140,"v":38.5},{"s":"X-Bot","t":1160,"v":37},{"s":"X-Bot","t":1180,"v":38.5},{"s":"X-Bot","t":1200,"v":38},{"s":"X-Bot","t":1220,"v":38.5},{"s":"X-Bot","t":1240,"v":37.5},{"s":"X-Bot","t":1260,"v":38.5},{"s":"X-Bot","t":1280,"v":38},{"s":"X-Bot","t":1300,"v":37.5},{"s":"X-Bot","t":1320,"v":38.5},{"s":"X-Bot","t":1340,"v":38},{"s":"X-Bot","t":1360,"v":37.5},{"s":"X-Bot","t":1380,"v":38.5},{"s":"X-Bot","t":1400,"v":38},{"s":"X-Bot","t":1420,"v":37.5},{"s":"X-Bot","t":1440,"v":38},{"s":"X-Bot","t":1460,"v":37.5},{"s":"X-Bot","t":1480,"v":38.5},{"s":"X-Bot","t":1500,"v":38},{"s":"X-Bot","t":1520,"v":37.5},{"s":"X-Bot","t":1540,"v":38},{"s":"X-Bot","t":1560,"v":37},{"s":"X-Bot","t":1580,"v":38},{"s":"X-Bot","t":1600,"v":37.5},{"s":"X-Bot","t":1620,"v":36.5},{"s":"X-Bot","t":1640,"v":38},
{"s":"DeMMon","t":0,"v":53},{"s":"DeMMon","t":5,"v":80},{"s":"DeMMon","t":10,"v":72},{"s":"DeMMon","t":15,"v":80},{"s":"DeMMon","t":20,"v":68},{"s":"DeMMon","t":25,"v":88},{"s":"DeMMon","t":30,"v":70},{"s":"DeMMon","t":35,"v":66},{"s":"DeMMon","t":40,"v":58},{"s":"DeMMon","t":45,"v":56},{"s":"DeMMon","t":50,"v":69},{"s":"DeMMon","t":55,"v":60},{"s":"DeMMon","t":60,"v":62},{"s":"DeMMon","t":65,"v":57},{"s":"DeMMon","t":70,"v":65},{"s":"DeMMon","t":75,"v":63},{"s":"DeMMon","t":80,"v":60},{"s":"DeMMon","t":85,"v":64},{"s":"DeMMon","t":90,"v":59},{"s":"DeMMon","t":95,"v":63},{"s":"DeMMon","t":100,"v":56},{"s":"DeMMon","t":110,"v":62},{"s":"DeMMon","t":120,"v":57},{"s":"DeMMon","t":130,"v":60},{"s":"DeMMon","t":140,"v":54},{"s":"DeMMon","t":150,"v":56},{"s":"DeMMon","t":160,"v":51},{"s":"DeMMon","t":170,"v":50},{"s":"DeMMon","t":180,"v":54},{"s":"DeMMon","t":190,"v":49},{"s":"DeMMon","t":200,"v":56},{"s":"DeMMon","t":210,"v":52},{"s":"DeMMon","t":220,"v":50},{"s":"DeMMon","t":230,"v":55},{"s":"DeMMon","t":240,"v":50},{"s":"DeMMon","t":250,"v":57},{"s":"DeMMon","t":260,"v":51},{"s":"DeMMon","t":270,"v":53},{"s":"DeMMon","t":280,"v":50},{"s":"DeMMon","t":290,"v":52},{"s":"DeMMon","t":300,"v":51},{"s":"DeMMon","t":310,"v":49},{"s":"DeMMon","t":320,"v":53},{"s":"DeMMon","t":330,"v":50},{"s":"DeMMon","t":340,"v":52},{"s":"DeMMon","t":350,"v":50},{"s":"DeMMon","t":360,"v":51},{"s":"DeMMon","t":365,"v":107},{"s":"DeMMon","t":370,"v":51},{"s":"DeMMon","t":380,"v":50},{"s":"DeMMon","t":390,"v":54},{"s":"DeMMon","t":400,"v":49},{"s":"DeMMon","t":410,"v":52},{"s":"DeMMon","t":420,"v":48},{"s":"DeMMon","t":430,"v":53},{"s":"DeMMon","t":440,"v":50},{"s":"DeMMon","t":450,"v":52},{"s":"DeMMon","t":460,"v":48},{"s":"DeMMon","t":470,"v":51},{"s":"DeMMon","t":480,"v":49},{"s":"DeMMon","t":490,"v":53},{"s":"DeMMon","t":500,"v":50},{"s":"DeMMon","t":510,"v":52},{"s":"DeMMon","t":520,"v":49},{"s":"DeMMon","t":530,"v":54},{"s":"DeMMon","t":540,"v":48},{"s":"DeMMon","t":550,"v":51},{"s":"DeMMon","t":560,"v":50},{"s":"DeMMon","t":570,"v":54},{"s":"DeMMon","t":580,"v":47},{"s":"DeMMon","t":590,"v":52},{"s":"DeMMon","t":600,"v":49},{"s":"DeMMon","t":610,"v":51},{"s":"DeMMon","t":620,"v":46},{"s":"DeMMon","t":630,"v":50},{"s":"DeMMon","t":640,"v":53},{"s":"DeMMon","t":650,"v":48},{"s":"DeMMon","t":660,"v":51},{"s":"DeMMon","t":670,"v":47},{"s":"DeMMon","t":680,"v":52},{"s":"DeMMon","t":690,"v":50},{"s":"DeMMon","t":700,"v":48},{"s":"DeMMon","t":710,"v":51},{"s":"DeMMon","t":720,"v":46},{"s":"DeMMon","t":730,"v":50},{"s":"DeMMon","t":740,"v":49},{"s":"DeMMon","t":750,"v":52},{"s":"DeMMon","t":760,"v":47},{"s":"DeMMon","t":770,"v":50},{"s":"DeMMon","t":780,"v":48},{"s":"DeMMon","t":790,"v":51},{"s":"DeMMon","t":800,"v":49},{"s":"DeMMon","t":810,"v":47},{"s":"DeMMon","t":820,"v":50},{"s":"DeMMon","t":830,"v":48},{"s":"DeMMon","t":840,"v":51},{"s":"DeMMon","t":850,"v":49},{"s":"DeMMon","t":860,"v":47},{"s":"DeMMon","t":870,"v":50},{"s":"DeMMon","t":880,"v":48},{"s":"DeMMon","t":890,"v":46},{"s":"DeMMon","t":900,"v":50},{"s":"DeMMon","t":910,"v":48},{"s":"DeMMon","t":920,"v":51},{"s":"DeMMon","t":930,"v":47},{"s":"DeMMon","t":940,"v":49},{"s":"DeMMon","t":950,"v":51},{"s":"DeMMon","t":960,"v":47},{"s":"DeMMon","t":970,"v":50},{"s":"DeMMon","t":980,"v":48},{"s":"DeMMon","t":990,"v":50},{"s":"DeMMon","t":1000,"v":47},{"s":"DeMMon","t":1010,"v":49},{"s":"DeMMon","t":1020,"v":46},{"s":"DeMMon","t":1030,"v":51},{"s":"DeMMon","t":1040,"v":48},{"s":"DeMMon","t":1050,"v":50},{"s":"DeMMon","t":1060,"v":46},{"s":"DeMMon","t":1070,"v":49},{"s":"DeMMon","t":1080,"v":47},{"s":"DeMMon","t":1090,"v":52},{"s":"DeMMon","t":1100,"v":46},{"s":"DeMMon","t":1110,"v":49},{"s":"DeMMon","t":1120,"v":47},{"s":"DeMMon","t":1130,"v":50},{"s":"DeMMon","t":1140,"v":46},{"s":"DeMMon","t":1150,"v":48},{"s":"DeMMon","t":1160,"v":45},{"s":"DeMMon","t":1170,"v":49},{"s":"DeMMon","t":1180,"v":47},{"s":"DeMMon","t":1190,"v":50},{"s":"DeMMon","t":1200,"v":46},{"s":"DeMMon","t":1210,"v":48},{"s":"DeMMon","t":1220,"v":45},{"s":"DeMMon","t":1230,"v":49},{"s":"DeMMon","t":1240,"v":47},{"s":"DeMMon","t":1250,"v":45},{"s":"DeMMon","t":1260,"v":48},{"s":"DeMMon","t":1270,"v":46},{"s":"DeMMon","t":1280,"v":49},{"s":"DeMMon","t":1290,"v":46},{"s":"DeMMon","t":1300,"v":53},{"s":"DeMMon","t":1310,"v":47},{"s":"DeMMon","t":1320,"v":49},{"s":"DeMMon","t":1330,"v":46},{"s":"DeMMon","t":1340,"v":48},{"s":"DeMMon","t":1350,"v":45},{"s":"DeMMon","t":1360,"v":49},{"s":"DeMMon","t":1370,"v":47},{"s":"DeMMon","t":1380,"v":44},{"s":"DeMMon","t":1390,"v":48},{"s":"DeMMon","t":1400,"v":46},{"s":"DeMMon","t":1410,"v":49},{"s":"DeMMon","t":1420,"v":45},{"s":"DeMMon","t":1430,"v":48},{"s":"DeMMon","t":1440,"v":46},{"s":"DeMMon","t":1450,"v":49},{"s":"DeMMon","t":1460,"v":45},{"s":"DeMMon","t":1470,"v":47},{"s":"DeMMon","t":1480,"v":46},{"s":"DeMMon","t":1490,"v":48},{"s":"DeMMon","t":1500,"v":45},{"s":"DeMMon","t":1510,"v":47},{"s":"DeMMon","t":1520,"v":45},{"s":"DeMMon","t":1530,"v":48},{"s":"DeMMon","t":1540,"v":46},{"s":"DeMMon","t":1550,"v":44},{"s":"DeMMon","t":1560,"v":48},{"s":"DeMMon","t":1570,"v":45},{"s":"DeMMon","t":1580,"v":47},{"s":"DeMMon","t":1590,"v":44},{"s":"DeMMon","t":1600,"v":48},{"s":"DeMMon","t":1610,"v":46},{"s":"DeMMon","t":1620,"v":45},{"s":"DeMMon","t":1630,"v":48},{"s":"DeMMon","t":1640,"v":46},
{"s":"Cyclon w/ T-Man","t":0,"v":0.5},{"s":"Cyclon w/ T-Man","t":5,"v":3},{"s":"Cyclon w/ T-Man","t":12,"v":7},{"s":"Cyclon w/ T-Man","t":20,"v":9},{"s":"Cyclon w/ T-Man","t":30,"v":9.5},{"s":"Cyclon w/ T-Man","t":45,"v":10.5},{"s":"Cyclon w/ T-Man","t":60,"v":11},{"s":"Cyclon w/ T-Man","t":80,"v":12},{"s":"Cyclon w/ T-Man","t":100,"v":12},{"s":"Cyclon w/ T-Man","t":120,"v":12.5},{"s":"Cyclon w/ T-Man","t":140,"v":12},{"s":"Cyclon w/ T-Man","t":160,"v":13},{"s":"Cyclon w/ T-Man","t":180,"v":13.5},{"s":"Cyclon w/ T-Man","t":190,"v":13},{"s":"Cyclon w/ T-Man","t":200,"v":12.5},{"s":"Cyclon w/ T-Man","t":220,"v":12},{"s":"Cyclon w/ T-Man","t":240,"v":12},{"s":"Cyclon w/ T-Man","t":260,"v":11.5},{"s":"Cyclon w/ T-Man","t":280,"v":11.5},{"s":"Cyclon w/ T-Man","t":300,"v":11.5},{"s":"Cyclon w/ T-Man","t":320,"v":11},{"s":"Cyclon w/ T-Man","t":340,"v":11.2},{"s":"Cyclon w/ T-Man","t":360,"v":11},{"s":"Cyclon w/ T-Man","t":380,"v":11.3},{"s":"Cyclon w/ T-Man","t":400,"v":11},{"s":"Cyclon w/ T-Man","t":420,"v":11},{"s":"Cyclon w/ T-Man","t":440,"v":11.3},{"s":"Cyclon w/ T-Man","t":460,"v":10.8},{"s":"Cyclon w/ T-Man","t":480,"v":11},{"s":"Cyclon w/ T-Man","t":500,"v":11},{"s":"Cyclon w/ T-Man","t":520,"v":10.8},{"s":"Cyclon w/ T-Man","t":540,"v":11.2},{"s":"Cyclon w/ T-Man","t":560,"v":10.9},{"s":"Cyclon w/ T-Man","t":580,"v":10.7},{"s":"Cyclon w/ T-Man","t":600,"v":11},{"s":"Cyclon w/ T-Man","t":620,"v":11},{"s":"Cyclon w/ T-Man","t":640,"v":11.3},{"s":"Cyclon w/ T-Man","t":660,"v":11.5},{"s":"Cyclon w/ T-Man","t":680,"v":12},{"s":"Cyclon w/ T-Man","t":700,"v":11.8},{"s":"Cyclon w/ T-Man","t":720,"v":11.5},{"s":"Cyclon w/ T-Man","t":740,"v":11.6},{"s":"Cyclon w/ T-Man","t":760,"v":11.3},{"s":"Cyclon w/ T-Man","t":780,"v":11.5},{"s":"Cyclon w/ T-Man","t":800,"v":11.2},{"s":"Cyclon w/ T-Man","t":820,"v":11.4},{"s":"Cyclon w/ T-Man","t":840,"v":11},{"s":"Cyclon w/ T-Man","t":860,"v":11.2},{"s":"Cyclon w/ T-Man","t":880,"v":11.3},{"s":"Cyclon w/ T-Man","t":900,"v":11.5},{"s":"Cyclon w/ T-Man","t":920,"v":11.2},{"s":"Cyclon w/ T-Man","t":940,"v":11.6},{"s":"Cyclon w/ T-Man","t":960,"v":11.3},{"s":"Cyclon w/ T-Man","t":980,"v":11.5},{"s":"Cyclon w/ T-Man","t":1000,"v":11.2},{"s":"Cyclon w/ T-Man","t":1020,"v":11.3},{"s":"Cyclon w/ T-Man","t":1040,"v":11},{"s":"Cyclon w/ T-Man","t":1060,"v":11.2},{"s":"Cyclon w/ T-Man","t":1080,"v":10.8},{"s":"Cyclon w/ T-Man","t":1100,"v":11},{"s":"Cyclon w/ T-Man","t":1120,"v":10.8},{"s":"Cyclon w/ T-Man","t":1140,"v":10.6},{"s":"Cyclon w/ T-Man","t":1160,"v":10.8},{"s":"Cyclon w/ T-Man","t":1180,"v":10.5},{"s":"Cyclon w/ T-Man","t":1200,"v":10.7},{"s":"Cyclon w/ T-Man","t":1220,"v":10.9},{"s":"Cyclon w/ T-Man","t":1240,"v":10.5},{"s":"Cyclon w/ T-Man","t":1260,"v":10.8},{"s":"Cyclon w/ T-Man","t":1280,"v":10.6},{"s":"Cyclon w/ T-Man","t":1300,"v":10.9},{"s":"Cyclon w/ T-Man","t":1320,"v":11},{"s":"Cyclon w/ T-Man","t":1340,"v":10.7},{"s":"Cyclon w/ T-Man","t":1360,"v":10.9},{"s":"Cyclon w/ T-Man","t":1380,"v":10.6},{"s":"Cyclon w/ T-Man","t":1400,"v":11},{"s":"Cyclon w/ T-Man","t":1420,"v":10.8},{"s":"Cyclon w/ T-Man","t":1440,"v":11},{"s":"Cyclon w/ T-Man","t":1460,"v":10.7},{"s":"Cyclon w/ T-Man","t":1480,"v":11.1},{"s":"Cyclon w/ T-Man","t":1500,"v":10.9},{"s":"Cyclon w/ T-Man","t":1520,"v":11.2},{"s":"Cyclon w/ T-Man","t":1540,"v":10.8},{"s":"Cyclon w/ T-Man","t":1560,"v":11},{"s":"Cyclon w/ T-Man","t":1580,"v":11.2},{"s":"Cyclon w/ T-Man","t":1600,"v":10.8},{"s":"Cyclon w/ T-Man","t":1620,"v":11.1},{"s":"Cyclon w/ T-Man","t":1640,"v":11},
{"s":"Hyparview","t":0,"v":40},{"s":"Hyparview","t":3,"v":26},{"s":"Hyparview","t":6,"v":40},{"s":"Hyparview","t":9,"v":30},{"s":"Hyparview","t":12,"v":35},{"s":"Hyparview","t":15,"v":27},{"s":"Hyparview","t":20,"v":24},{"s":"Hyparview","t":25,"v":22},{"s":"Hyparview","t":30,"v":21},{"s":"Hyparview","t":40,"v":21},{"s":"Hyparview","t":50,"v":20},{"s":"Hyparview","t":60,"v":20},{"s":"Hyparview","t":70,"v":19},{"s":"Hyparview","t":80,"v":18.5},{"s":"Hyparview","t":90,"v":17.5},{"s":"Hyparview","t":100,"v":17.5},{"s":"Hyparview","t":110,"v":17},{"s":"Hyparview","t":120,"v":17},{"s":"Hyparview","t":130,"v":17.5},{"s":"Hyparview","t":140,"v":16.5},{"s":"Hyparview","t":150,"v":15.5},{"s":"Hyparview","t":160,"v":15},{"s":"Hyparview","t":180,"v":15.2},{"s":"Hyparview","t":200,"v":15},{"s":"Hyparview","t":220,"v":15.3},{"s":"Hyparview","t":240,"v":15},{"s":"Hyparview","t":260,"v":15.4},{"s":"Hyparview","t":280,"v":15.2},{"s":"Hyparview","t":300,"v":14.9},{"s":"Hyparview","t":320,"v":15.5},{"s":"Hyparview","t":340,"v":15.8},{"s":"Hyparview","t":360,"v":15.3},{"s":"Hyparview","t":380,"v":15},{"s":"Hyparview","t":400,"v":15.3},{"s":"Hyparview","t":420,"v":15.2},{"s":"Hyparview","t":440,"v":15.5},{"s":"Hyparview","t":460,"v":15},{"s":"Hyparview","t":480,"v":15.3},{"s":"Hyparview","t":500,"v":15.2},{"s":"Hyparview","t":520,"v":15},{"s":"Hyparview","t":540,"v":15.4},{"s":"Hyparview","t":560,"v":15.1},{"s":"Hyparview","t":580,"v":15.2},{"s":"Hyparview","t":600,"v":15},{"s":"Hyparview","t":620,"v":15.3},{"s":"Hyparview","t":640,"v":15},{"s":"Hyparview","t":660,"v":15.2},{"s":"Hyparview","t":680,"v":15.1},{"s":"Hyparview","t":700,"v":15.3},{"s":"Hyparview","t":720,"v":15},{"s":"Hyparview","t":740,"v":15.2},{"s":"Hyparview","t":760,"v":15},{"s":"Hyparview","t":780,"v":15.3},{"s":"Hyparview","t":800,"v":15.1},{"s":"Hyparview","t":820,"v":15},{"s":"Hyparview","t":840,"v":14.8},{"s":"Hyparview","t":860,"v":15.2},{"s":"Hyparview","t":880,"v":15},{"s":"Hyparview","t":900,"v":15.1},{"s":"Hyparview","t":920,"v":15.3},{"s":"Hyparview","t":940,"v":15},{"s":"Hyparview","t":960,"v":15.2},{"s":"Hyparview","t":980,"v":15},{"s":"Hyparview","t":1000,"v":15.3},{"s":"Hyparview","t":1020,"v":15.1},{"s":"Hyparview","t":1040,"v":15.2},{"s":"Hyparview","t":1060,"v":15},{"s":"Hyparview","t":1080,"v":15.2},{"s":"Hyparview","t":1100,"v":15.1},{"s":"Hyparview","t":1120,"v":15},{"s":"Hyparview","t":1140,"v":15.2},{"s":"Hyparview","t":1160,"v":15.1},{"s":"Hyparview","t":1180,"v":15.3},{"s":"Hyparview","t":1200,"v":15},{"s":"Hyparview","t":1220,"v":15.2},{"s":"Hyparview","t":1240,"v":15.4},{"s":"Hyparview","t":1260,"v":15.1},{"s":"Hyparview","t":1280,"v":15.3},{"s":"Hyparview","t":1300,"v":15.9},{"s":"Hyparview","t":1320,"v":15.2},{"s":"Hyparview","t":1340,"v":15.1},{"s":"Hyparview","t":1360,"v":15.4},{"s":"Hyparview","t":1380,"v":15},{"s":"Hyparview","t":1400,"v":15.2},{"s":"Hyparview","t":1420,"v":15.1},{"s":"Hyparview","t":1440,"v":15.3},{"s":"Hyparview","t":1460,"v":15.2},{"s":"Hyparview","t":1480,"v":15},{"s":"Hyparview","t":1500,"v":15.3},{"s":"Hyparview","t":1520,"v":15.2},{"s":"Hyparview","t":1540,"v":15.5},{"s":"Hyparview","t":1560,"v":15},{"s":"Hyparview","t":1580,"v":15.3},{"s":"Hyparview","t":1600,"v":15.6},{"s":"Hyparview","t":1620,"v":15.2},{"s":"Hyparview","t":1640,"v":15.4}
],
"p750": [
{"s":"Cyclon","t":0,"v":0.5},{"s":"Cyclon","t":10,"v":0.6},{"s":"Cyclon","t":40,"v":0.7},{"s":"Cyclon","t":80,"v":1.0},{"s":"Cyclon","t":120,"v":1.4},{"s":"Cyclon","t":160,"v":1.8},{"s":"Cyclon","t":200,"v":2.2},{"s":"Cyclon","t":240,"v":2.3},{"s":"Cyclon","t":280,"v":2.2},{"s":"Cyclon","t":320,"v":2.1},{"s":"Cyclon","t":400,"v":2.0},{"s":"Cyclon","t":500,"v":2.1},{"s":"Cyclon","t":600,"v":2.0},{"s":"Cyclon","t":700,"v":2.0},{"s":"Cyclon","t":800,"v":2.1},{"s":"Cyclon","t":900,"v":2.0},{"s":"Cyclon","t":1000,"v":2.0},{"s":"Cyclon","t":1100,"v":2.0},{"s":"Cyclon","t":1200,"v":2.1},{"s":"Cyclon","t":1300,"v":2.0},{"s":"Cyclon","t":1400,"v":2.0},{"s":"Cyclon","t":1500,"v":2.0},{"s":"Cyclon","t":1600,"v":2.1},{"s":"Cyclon","t":1720,"v":2.0},
{"s":"X-Bot","t":0,"v":54},{"s":"X-Bot","t":5,"v":38},{"s":"X-Bot","t":8,"v":44},{"s":"X-Bot","t":12,"v":34},{"s":"X-Bot","t":16,"v":42},{"s":"X-Bot","t":20,"v":36},{"s":"X-Bot","t":25,"v":33},{"s":"X-Bot","t":30,"v":38},{"s":"X-Bot","t":35,"v":36},{"s":"X-Bot","t":40,"v":34},{"s":"X-Bot","t":50,"v":36},{"s":"X-Bot","t":55,"v":37},{"s":"X-Bot","t":60,"v":34},{"s":"X-Bot","t":70,"v":33},{"s":"X-Bot","t":80,"v":35},{"s":"X-Bot","t":90,"v":37},{"s":"X-Bot","t":100,"v":34},{"s":"X-Bot","t":110,"v":36},{"s":"X-Bot","t":120,"v":37},{"s":"X-Bot","t":130,"v":35},{"s":"X-Bot","t":140,"v":36.5},{"s":"X-Bot","t":150,"v":37},{"s":"X-Bot","t":160,"v":38},{"s":"X-Bot","t":170,"v":36.5},{"s":"X-Bot","t":180,"v":38.5},{"s":"X-Bot","t":190,"v":37.5},{"s":"X-Bot","t":200,"v":39},{"s":"X-Bot","t":210,"v":38},{"s":"X-Bot","t":220,"v":39.5},{"s":"X-Bot","t":240,"v":38.5},{"s":"X-Bot","t":260,"v":39.5},{"s":"X-Bot","t":280,"v":39},{"s":"X-Bot","t":300,"v":40},{"s":"X-Bot","t":320,"v":39},{"s":"X-Bot","t":340,"v":40},{"s":"X-Bot","t":360,"v":39.5},{"s":"X-Bot","t":380,"v":40.5},{"s":"X-Bot","t":400,"v":39.5},{"s":"X-Bot","t":420,"v":40.5},{"s":"X-Bot","t":440,"v":40},{"s":"X-Bot","t":460,"v":40.5},{"s":"X-Bot","t":480,"v":39.5},{"s":"X-Bot","t":500,"v":41},{"s":"X-Bot","t":520,"v":40},{"s":"X-Bot","t":540,"v":40.5},{"s":"X-Bot","t":550,"v":41.5},{"s":"X-Bot","t":560,"v":40},{"s":"X-Bot","t":580,"v":40.5},{"s":"X-Bot","t":600,"v":40},{"s":"X-Bot","t":620,"v":40.5},{"s":"X-Bot","t":640,"v":40},{"s":"X-Bot","t":660,"v":39.5},{"s":"X-Bot","t":680,"v":40.5},{"s":"X-Bot","t":700,"v":40},{"s":"X-Bot","t":720,"v":40.5},{"s":"X-Bot","t":740,"v":41},{"s":"X-Bot","t":760,"v":40},{"s":"X-Bot","t":780,"v":40.5},{"s":"X-Bot","t":800,"v":41},{"s":"X-Bot","t":820,"v":40},{"s":"X-Bot","t":840,"v":40.5},{"s":"X-Bot","t":860,"v":40},{"s":"X-Bot","t":880,"v":39.5},{"s":"X-Bot","t":900,"v":40.5},{"s":"X-Bot","t":920,"v":40},{"s":"X-Bot","t":940,"v":39.5},{"s":"X-Bot","t":960,"v":40.5},{"s":"X-Bot","t":980,"v":40},{"s":"X-Bot","t":1000,"v":40.5},{"s":"X-Bot","t":1020,"v":40},{"s":"X-Bot","t":1040,"v":40.5},{"s":"X-Bot","t":1060,"v":39.5},{"s":"X-Bot","t":1080,"v":40},{"s":"X-Bot","t":1100,"v":40.5},{"s":"X-Bot","t":1120,"v":39.5},{"s":"X-Bot","t":1140,"v":40},{"s":"X-Bot","t":1160,"v":39.5},{"s":"X-Bot","t":1180,"v":40},{"s":"X-Bot","t":1200,"v":40.5},{"s":"X-Bot","t":1220,"v":39.5},{"s":"X-Bot","t":1240,"v":40},{"s":"X-Bot","t":1260,"v":40.5},{"s":"X-Bot","t":1280,"v":39.5},{"s":"X-Bot","t":1300,"v":40},{"s":"X-Bot","t":1320,"v":39.5},{"s":"X-Bot","t":1340,"v":40.5},{"s":"X-Bot","t":1360,"v":39.5},{"s":"X-Bot","t":1380,"v":40},{"s":"X-Bot","t":1400,"v":39},{"s":"X-Bot","t":1420,"v":40},{"s":"X-Bot","t":1440,"v":39.5},{"s":"X-Bot","t":1460,"v":40},{"s":"X-Bot","t":1480,"v":39.5},{"s":"X-Bot","t":1500,"v":40},{"s":"X-Bot","t":1520,"v":39},{"s":"X-Bot","t":1540,"v":39.5},{"s":"X-Bot","t":1560,"v":40},{"s":"X-Bot","t":1580,"v":39.5},{"s":"X-Bot","t":1600,"v":40},{"s":"X-Bot","t":1620,"v":38.5},{"s":"X-Bot","t":1640,"v":39.5},{"s":"X-Bot","t":1660,"v":39},{"s":"X-Bot","t":1680,"v":40},{"s":"X-Bot","t":1700,"v":39.5},{"s":"X-Bot","t":1720,"v":39.5},
{"s":"DeMMon","t":0,"v":57},{"s":"DeMMon","t":5,"v":95},{"s":"DeMMon","t":10,"v":85},{"s":"DeMMon","t":15,"v":68},{"s":"DeMMon","t":20,"v":83},{"s":"DeMMon","t":25,"v":70},{"s":"DeMMon","t":30,"v":73},{"s":"DeMMon","t":35,"v":67},{"s":"DeMMon","t":40,"v":72},{"s":"DeMMon","t":45,"v":68},{"s":"DeMMon","t":50,"v":74},{"s":"DeMMon","t":55,"v":64},{"s":"DeMMon","t":60,"v":72},{"s":"DeMMon","t":65,"v":67},{"s":"DeMMon","t":70,"v":65},{"s":"DeMMon","t":75,"v":62},{"s":"DeMMon","t":80,"v":66},{"s":"DeMMon","t":85,"v":64},{"s":"DeMMon","t":90,"v":60},{"s":"DeMMon","t":95,"v":65},{"s":"DeMMon","t":100,"v":62},{"s":"DeMMon","t":110,"v":57},{"s":"DeMMon","t":120,"v":64},{"s":"DeMMon","t":130,"v":60},{"s":"DeMMon","t":140,"v":62},{"s":"DeMMon","t":150,"v":65},{"s":"DeMMon","t":160,"v":60},{"s":"DeMMon","t":170,"v":63},{"s":"DeMMon","t":180,"v":58},{"s":"DeMMon","t":190,"v":67},{"s":"DeMMon","t":200,"v":61},{"s":"DeMMon","t":210,"v":64},{"s":"DeMMon","t":220,"v":59},{"s":"DeMMon","t":230,"v":62},{"s":"DeMMon","t":240,"v":57},{"s":"DeMMon","t":250,"v":59},{"s":"DeMMon","t":260,"v":56},{"s":"DeMMon","t":270,"v":58},{"s":"DeMMon","t":280,"v":55},{"s":"DeMMon","t":290,"v":58},{"s":"DeMMon","t":300,"v":54},{"s":"DeMMon","t":310,"v":57},{"s":"DeMMon","t":320,"v":55},{"s":"DeMMon","t":330,"v":59},{"s":"DeMMon","t":340,"v":53},{"s":"DeMMon","t":350,"v":61},{"s":"DeMMon","t":360,"v":55},{"s":"DeMMon","t":370,"v":57},{"s":"DeMMon","t":380,"v":54},{"s":"DeMMon","t":390,"v":58},{"s":"DeMMon","t":400,"v":55},{"s":"DeMMon","t":410,"v":53},{"s":"DeMMon","t":420,"v":57},{"s":"DeMMon","t":430,"v":54},{"s":"DeMMon","t":440,"v":56},{"s":"DeMMon","t":450,"v":52},{"s":"DeMMon","t":460,"v":58},{"s":"DeMMon","t":470,"v":55},{"s":"DeMMon","t":480,"v":57},{"s":"DeMMon","t":490,"v":53},{"s":"DeMMon","t":500,"v":56},{"s":"DeMMon","t":510,"v":54},{"s":"DeMMon","t":520,"v":58},{"s":"DeMMon","t":530,"v":55},{"s":"DeMMon","t":540,"v":53},{"s":"DeMMon","t":550,"v":59},{"s":"DeMMon","t":560,"v":54},{"s":"DeMMon","t":570,"v":57},{"s":"DeMMon","t":580,"v":53},{"s":"DeMMon","t":590,"v":56},{"s":"DeMMon","t":600,"v":54},{"s":"DeMMon","t":610,"v":52},{"s":"DeMMon","t":620,"v":58},{"s":"DeMMon","t":630,"v":55},{"s":"DeMMon","t":640,"v":53},{"s":"DeMMon","t":650,"v":57},{"s":"DeMMon","t":660,"v":54},{"s":"DeMMon","t":670,"v":56},{"s":"DeMMon","t":680,"v":52},{"s":"DeMMon","t":690,"v":55},{"s":"DeMMon","t":700,"v":53},{"s":"DeMMon","t":710,"v":57},{"s":"DeMMon","t":720,"v":54},{"s":"DeMMon","t":730,"v":52},{"s":"DeMMon","t":740,"v":56},{"s":"DeMMon","t":750,"v":54},{"s":"DeMMon","t":760,"v":61},{"s":"DeMMon","t":770,"v":55},{"s":"DeMMon","t":780,"v":53},{"s":"DeMMon","t":790,"v":57},{"s":"DeMMon","t":800,"v":54},{"s":"DeMMon","t":810,"v":56},{"s":"DeMMon","t":820,"v":52},{"s":"DeMMon","t":830,"v":55},{"s":"DeMMon","t":840,"v":53},{"s":"DeMMon","t":850,"v":58},{"s":"DeMMon","t":860,"v":52},{"s":"DeMMon","t":870,"v":50},{"s":"DeMMon","t":880,"v":55},{"s":"DeMMon","t":890,"v":53},{"s":"DeMMon","t":900,"v":57},{"s":"DeMMon","t":910,"v":51},{"s":"DeMMon","t":920,"v":54},{"s":"DeMMon","t":930,"v":56},{"s":"DeMMon","t":940,"v":52},{"s":"DeMMon","t":950,"v":55},{"s":"DeMMon","t":960,"v":53},{"s":"DeMMon","t":970,"v":51},{"s":"DeMMon","t":980,"v":56},{"s":"DeMMon","t":990,"v":54},{"s":"DeMMon","t":1000,"v":57},{"s":"DeMMon","t":1010,"v":53},{"s":"DeMMon","t":1020,"v":55},{"s":"DeMMon","t":1030,"v":52},{"s":"DeMMon","t":1040,"v":56},{"s":"DeMMon","t":1050,"v":54},{"s":"DeMMon","t":1060,"v":51},{"s":"DeMMon","t":1070,"v":55},{"s":"DeMMon","t":1080,"v":53},{"s":"DeMMon","t":1090,"v":57},{"s":"DeMMon","t":1100,"v":52},{"s":"DeMMon","t":1110,"v":55},{"s":"DeMMon","t":1120,"v":50},{"s":"DeMMon","t":1130,"v":54},{"s":"DeMMon","t":1140,"v":56},{"s":"DeMMon","t":1150,"v":52},{"s":"DeMMon","t":1160,"v":55},{"s":"DeMMon","t":1170,"v":53},{"s":"DeMMon","t":1180,"v":57},{"s":"DeMMon","t":1190,"v":52},{"s":"DeMMon","t":1200,"v":54},{"s":"DeMMon","t":1210,"v":61},{"s":"DeMMon","t":1220,"v":53},{"s":"DeMMon","t":1230,"v":55},{"s":"DeMMon","t":1240,"v":51},{"s":"DeMMon","t":1250,"v":54},{"s":"DeMMon","t":1260,"v":56},{"s":"DeMMon","t":1270,"v":52},{"s":"DeMMon","t":1280,"v":55},{"s":"DeMMon","t":1290,"v":53},{"s":"DeMMon","t":1300,"v":50},{"s":"DeMMon","t":1310,"v":55},{"s":"DeMMon","t":1320,"v":53},{"s":"DeMMon","t":1330,"v":57},{"s":"DeMMon","t":1340,"v":52},{"s":"DeMMon","t":1350,"v":54},{"s":"DeMMon","t":1360,"v":56},{"s":"DeMMon","t":1370,"v":51},{"s":"DeMMon","t":1380,"v":54},{"s":"DeMMon","t":1390,"v":55},{"s":"DeMMon","t":1400,"v":52},{"s":"DeMMon","t":1410,"v":57},{"s":"DeMMon","t":1420,"v":53},{"s":"DeMMon","t":1430,"v":55},{"s":"DeMMon","t":1440,"v":51},{"s":"DeMMon","t":1450,"v":54},{"s":"DeMMon","t":1460,"v":49.5},{"s":"DeMMon","t":1470,"v":53},{"s":"DeMMon","t":1480,"v":56},{"s":"DeMMon","t":1490,"v":52},{"s":"DeMMon","t":1500,"v":59},{"s":"DeMMon","t":1510,"v":54},{"s":"DeMMon","t":1520,"v":56},{"s":"DeMMon","t":1530,"v":52},{"s":"DeMMon","t":1540,"v":55},{"s":"DeMMon","t":1550,"v":53},{"s":"DeMMon","t":1560,"v":57},{"s":"DeMMon","t":1570,"v":52},{"s":"DeMMon","t":1580,"v":55},{"s":"DeMMon","t":1590,"v":53},{"s":"DeMMon","t":1600,"v":56},{"s":"DeMMon","t":1610,"v":52},{"s":"DeMMon","t":1620,"v":54},{"s":"DeMMon","t":1630,"v":55},{"s":"DeMMon","t":1640,"v":51},{"s":"DeMMon","t":1650,"v":56},{"s":"DeMMon","t":1660,"v":53},{"s":"DeMMon","t":1670,"v":55},{"s":"DeMMon","t":1680,"v":52},{"s":"DeMMon","t":1690,"v":56},{"s":"DeMMon","t":1700,"v":51},{"s":"DeMMon","t":1710,"v":55},{"s":"DeMMon","t":1720,"v":54},
{"s":"Cyclon w/ T-Man","t":0,"v":0.5},{"s":"Cyclon w/ T-Man","t":3,"v":3},{"s":"Cyclon w/ T-Man","t":6,"v":5},{"s":"Cyclon w/ T-Man","t":10,"v":6},{"s":"Cyclon w/ T-Man","t":15,"v":7},{"s":"Cyclon w/ T-Man","t":20,"v":7.5},{"s":"Cyclon w/ T-Man","t":30,"v":8},{"s":"Cyclon w/ T-Man","t":40,"v":9},{"s":"Cyclon w/ T-Man","t":50,"v":9},{"s":"Cyclon w/ T-Man","t":60,"v":9.5},{"s":"Cyclon w/ T-Man","t":70,"v":10},{"s":"Cyclon w/ T-Man","t":80,"v":10.5},{"s":"Cyclon w/ T-Man","t":90,"v":10.5},{"s":"Cyclon w/ T-Man","t":100,"v":10.5},{"s":"Cyclon w/ T-Man","t":110,"v":11},{"s":"Cyclon w/ T-Man","t":120,"v":11},{"s":"Cyclon w/ T-Man","t":130,"v":11.5},{"s":"Cyclon w/ T-Man","t":140,"v":11.5},{"s":"Cyclon w/ T-Man","t":150,"v":12},{"s":"Cyclon w/ T-Man","t":160,"v":12},{"s":"Cyclon w/ T-Man","t":170,"v":12.5},{"s":"Cyclon w/ T-Man","t":180,"v":13},{"s":"Cyclon w/ T-Man","t":190,"v":13},{"s":"Cyclon w/ T-Man","t":200,"v":13.5},{"s":"Cyclon w/ T-Man","t":210,"v":14},{"s":"Cyclon w/ T-Man","t":220,"v":14.5},{"s":"Cyclon w/ T-Man","t":230,"v":15.5},{"s":"Cyclon w/ T-Man","t":240,"v":15.5},{"s":"Cyclon w/ T-Man","t":250,"v":15},{"s":"Cyclon w/ T-Man","t":260,"v":14.5},{"s":"Cyclon w/ T-Man","t":280,"v":14.7},{"s":"Cyclon w/ T-Man","t":300,"v":14.3},{"s":"Cyclon w/ T-Man","t":320,"v":14.6},{"s":"Cyclon w/ T-Man","t":340,"v":14.2},{"s":"Cyclon w/ T-Man","t":360,"v":14.5},{"s":"Cyclon w/ T-Man","t":380,"v":14.3},{"s":"Cyclon w/ T-Man","t":400,"v":14.6},{"s":"Cyclon w/ T-Man","t":420,"v":14.4},{"s":"Cyclon w/ T-Man","t":440,"v":14.7},{"s":"Cyclon w/ T-Man","t":460,"v":14.2},{"s":"Cyclon w/ T-Man","t":480,"v":14.5},{"s":"Cyclon w/ T-Man","t":500,"v":14.6},{"s":"Cyclon w/ T-Man","t":520,"v":14.3},{"s":"Cyclon w/ T-Man","t":540,"v":14.5},{"s":"Cyclon w/ T-Man","t":560,"v":14.2},{"s":"Cyclon w/ T-Man","t":580,"v":14.4},{"s":"Cyclon w/ T-Man","t":600,"v":14.6},{"s":"Cyclon w/ T-Man","t":620,"v":14.3},{"s":"Cyclon w/ T-Man","t":640,"v":14.5},{"s":"Cyclon w/ T-Man","t":660,"v":14.1},{"s":"Cyclon w/ T-Man","t":680,"v":14.4},{"s":"Cyclon w/ T-Man","t":700,"v":14.6},{"s":"Cyclon w/ T-Man","t":720,"v":14.3},{"s":"Cyclon w/ T-Man","t":740,"v":14.5},{"s":"Cyclon w/ T-Man","t":760,"v":14.2},{"s":"Cyclon w/ T-Man","t":780,"v":14.4},{"s":"Cyclon w/ T-Man","t":800,"v":14.6},{"s":"Cyclon w/ T-Man","t":820,"v":14.3},{"s":"Cyclon w/ T-Man","t":840,"v":14.4},{"s":"Cyclon w/ T-Man","t":860,"v":14.1},{"s":"Cyclon w/ T-Man","t":880,"v":14.5},{"s":"Cyclon w/ T-Man","t":900,"v":14.3},{"s":"Cyclon w/ T-Man","t":920,"v":14.6},{"s":"Cyclon w/ T-Man","t":940,"v":14.2},{"s":"Cyclon w/ T-Man","t":960,"v":14.4},{"s":"Cyclon w/ T-Man","t":980,"v":14.5},{"s":"Cyclon w/ T-Man","t":1000,"v":14.2},{"s":"Cyclon w/ T-Man","t":1020,"v":14.4},{"s":"Cyclon w/ T-Man","t":1040,"v":14.6},{"s":"Cyclon w/ T-Man","t":1060,"v":14.3},{"s":"Cyclon w/ T-Man","t":1080,"v":14.4},{"s":"Cyclon w/ T-Man","t":1100,"v":14.1},{"s":"Cyclon w/ T-Man","t":1120,"v":14.4},{"s":"Cyclon w/ T-Man","t":1140,"v":14.6},{"s":"Cyclon w/ T-Man","t":1160,"v":14.3},{"s":"Cyclon w/ T-Man","t":1180,"v":14.5},{"s":"Cyclon w/ T-Man","t":1200,"v":14.2},{"s":"Cyclon w/ T-Man","t":1220,"v":14.4},{"s":"Cyclon w/ T-Man","t":1240,"v":14.6},{"s":"Cyclon w/ T-Man","t":1260,"v":14.2},{"s":"Cyclon w/ T-Man","t":1280,"v":14.4},{"s":"Cyclon w/ T-Man","t":1300,"v":14.1},{"s":"Cyclon w/ T-Man","t":1320,"v":14.5},{"s":"Cyclon w/ T-Man","t":1340,"v":14.3},{"s":"Cyclon w/ T-Man","t":1360,"v":14.6},{"s":"Cyclon w/ T-Man","t":1380,"v":14.2},{"s":"Cyclon w/ T-Man","t":1400,"v":14.4},{"s":"Cyclon w/ T-Man","t":1420,"v":14.3},{"s":"Cyclon w/ T-Man","t":1440,"v":14.5},{"s":"Cyclon w/ T-Man","t":1460,"v":14.2},{"s":"Cyclon w/ T-Man","t":1480,"v":14.4},{"s":"Cyclon w/ T-Man","t":1500,"v":14.6},{"s":"Cyclon w/ T-Man","t":1520,"v":14.2},{"s":"Cyclon w/ T-Man","t":1540,"v":14.4},{"s":"Cyclon w/ T-Man","t":1560,"v":14.3},{"s":"Cyclon w/ T-Man","t":1580,"v":14.5},{"s":"Cyclon w/ T-Man","t":1600,"v":14.2},{"s":"Cyclon w/ T-Man","t":1620,"v":14.4},{"s":"Cyclon w/ T-Man","t":1640,"v":14.1},{"s":"Cyclon w/ T-Man","t":1660,"v":14.4},{"s":"Cyclon w/ T-Man","t":1680,"v":14.3},{"s":"Cyclon w/ T-Man","t":1700,"v":14},{"s":"Cyclon w/ T-Man","t":1720,"v":14.2},
{"s":"Hyparview","t":0,"v":53},{"s":"Hyparview","t":4,"v":27},{"s":"Hyparview","t":8,"v":29},{"s":"Hyparview","t":12,"v":25},{"s":"Hyparview","t":16,"v":27},{"s":"Hyparview","t":20,"v":21},{"s":"Hyparview","t":25,"v":20},{"s":"Hyparview","t":30,"v":19},{"s":"Hyparview","t":35,"v":20},{"s":"Hyparview","t":40,"v":18},{"s":"Hyparview","t":50,"v":18},{"s":"Hyparview","t":60,"v":17.5},{"s":"Hyparview","t":70,"v":17},{"s":"Hyparview","t":80,"v":17},{"s":"Hyparview","t":90,"v":16.5},{"s":"Hyparview","t":100,"v":16.8},{"s":"Hyparview","t":120,"v":16.5},{"s":"Hyparview","t":140,"v":16.2},{"s":"Hyparview","t":160,"v":16.5},{"s":"Hyparview","t":180,"v":16},{"s":"Hyparview","t":200,"v":16.3},{"s":"Hyparview","t":220,"v":17},{"s":"Hyparview","t":230,"v":16},{"s":"Hyparview","t":240,"v":15.5},{"s":"Hyparview","t":260,"v":15.2},{"s":"Hyparview","t":280,"v":15},{"s":"Hyparview","t":300,"v":15.3},{"s":"Hyparview","t":320,"v":15},{"s":"Hyparview","t":340,"v":15.2},{"s":"Hyparview","t":360,"v":14.9},{"s":"Hyparview","t":380,"v":15.1},{"s":"Hyparview","t":400,"v":15.3},{"s":"Hyparview","t":420,"v":15},{"s":"Hyparview","t":440,"v":15.2},{"s":"Hyparview","t":460,"v":14.9},{"s":"Hyparview","t":480,"v":15.3},{"s":"Hyparview","t":500,"v":15},{"s":"Hyparview","t":520,"v":15.2},{"s":"Hyparview","t":540,"v":15.4},{"s":"Hyparview","t":560,"v":15},{"s":"Hyparview","t":580,"v":15.1},{"s":"Hyparview","t":600,"v":14.9},{"s":"Hyparview","t":620,"v":15.2},{"s":"Hyparview","t":640,"v":15},{"s":"Hyparview","t":660,"v":15.3},{"s":"Hyparview","t":680,"v":15},{"s":"Hyparview","t":700,"v":15.1},{"s":"Hyparview","t":720,"v":14.8},{"s":"Hyparview","t":740,"v":15.2},{"s":"Hyparview","t":760,"v":15},{"s":"Hyparview","t":780,"v":15.1},{"s":"Hyparview","t":800,"v":14.9},{"s":"Hyparview","t":820,"v":15.2},{"s":"Hyparview","t":840,"v":15},{"s":"Hyparview","t":860,"v":14.8},{"s":"Hyparview","t":880,"v":15.1},{"s":"Hyparview","t":900,"v":14.9},{"s":"Hyparview","t":920,"v":15.2},{"s":"Hyparview","t":940,"v":15},{"s":"Hyparview","t":960,"v":14.8},{"s":"Hyparview","t":980,"v":15},{"s":"Hyparview","t":1000,"v":15.1},{"s":"Hyparview","t":1020,"v":14.8},{"s":"Hyparview","t":1040,"v":15},{"s":"Hyparview","t":1060,"v":14.9},{"s":"Hyparview","t":1080,"v":15.1},{"s":"Hyparview","t":1100,"v":14.8},{"s":"Hyparview","t":1120,"v":15},{"s":"Hyparview","t":1140,"v":15.1},{"s":"Hyparview","t":1160,"v":14.9},{"s":"Hyparview","t":1180,"v":15},{"s":"Hyparview","t":1200,"v":14.8},{"s":"Hyparview","t":1220,"v":15.1},{"s":"Hyparview","t":1240,"v":14.9},{"s":"Hyparview","t":1260,"v":15},{"s":"Hyparview","t":1280,"v":15.2},{"s":"Hyparview","t":1300,"v":14.9},{"s":"Hyparview","t":1320,"v":15},{"s":"Hyparview","t":1340,"v":14.8},{"s":"Hyparview","t":1360,"v":15.1},{"s":"Hyparview","t":1380,"v":15},{"s":"Hyparview","t":1400,"v":14.9},{"s":"Hyparview","t":1420,"v":15.1},{"s":"Hyparview","t":1440,"v":15},{"s":"Hyparview","t":1460,"v":14.8},{"s":"Hyparview","t":1480,"v":15},{"s":"Hyparview","t":1500,"v":15.1},{"s":"Hyparview","t":1520,"v":14.9},{"s":"Hyparview","t":1540,"v":15},{"s":"Hyparview","t":1560,"v":14.8},{"s":"Hyparview","t":1580,"v":15.1},{"s":"Hyparview","t":1600,"v":15},{"s":"Hyparview","t":1620,"v":14.9},{"s":"Hyparview","t":1640,"v":15.1},{"s":"Hyparview","t":1660,"v":15},{"s":"Hyparview","t":1680,"v":14.9},{"s":"Hyparview","t":1700,"v":15},{"s":"Hyparview","t":1720,"v":15}
]
},
"spacing": 57,
"bounds": "flush",
"hconcat": [
{"title": "50 nodes", "width": 225, "height": 333, "data": {"name": "p50"}, "mark": {"type": "line", "strokeWidth": 1.4},
 "encoding": {
  "x": {"field": "t", "type": "quantitative", "scale": {"domain": [-75, 1583], "nice": false, "zero": false}, "axis": {"values": [0,250,500,750,1000,1250,1500], "format": "d", "title": "Time (s)"}},
  "y": {"field": "v", "type": "quantitative", "scale": {"domain": [-3.6, 87.8], "nice": false, "zero": false}, "axis": {"values": [0,20,40,60,80], "title": "Average network cost per node (kbit)"}},
  "color": {"field": "s", "type": "nominal", "scale": {"domain": ["Cyclon","X-Bot","DeMMon","Cyclon w/ T-Man","Hyparview"], "range": ["#ff0000","#00bfbf","#0000ff","#bf00bf","#008000"]}}
 }},
{"title": "250 nodes", "width": 225, "height": 333, "data": {"name": "p250"}, "mark": {"type": "line", "strokeWidth": 1.4},
 "encoding": {
  "x": {"field": "t", "type": "quantitative", "scale": {"domain": [-79, 1649], "nice": false, "zero": false}, "axis": {"values": [0,250,500,750,1000,1250,1500], "format": "d", "title": "Time (s)"}},
  "y": {"field": "v", "type": "quantitative", "scale": {"domain": [-3.6, 91.7], "nice": false, "zero": false}, "axis": {"values": [0,20,40,60,80], "title": "Average network cost per node (kbit)"}},
  "color": {"field": "s", "type": "nominal", "scale": {"domain": ["Cyclon","X-Bot","DeMMon","Cyclon w/ T-Man","Hyparview"], "range": ["#ff0000","#00bfbf","#0000ff","#bf00bf","#008000"]}}
 }},
{"title": "500 nodes", "width": 225, "height": 333, "data": {"name": "p500"}, "mark": {"type": "line", "strokeWidth": 1.4},
 "encoding": {
  "x": {"field": "t", "type": "quantitative", "scale": {"domain": [-86, 1708], "nice": false, "zero": false}, "axis": {"values": [0,500,1000,1500], "format": "d", "title": "Time (s)"}},
  "y": {"field": "v", "type": "quantitative", "scale": {"domain": [-4.6, 112.6], "nice": false, "zero": false}, "axis": {"values": [0,20,40,60,80,100], "title": "Average network cost per node (kbit)"}},
  "color": {"field": "s", "type": "nominal", "scale": {"domain": ["Cyclon","X-Bot","DeMMon","Cyclon w/ T-Man","Hyparview"], "range": ["#ff0000","#00bfbf","#0000ff","#bf00bf","#008000"]}}
 }},
{"title": "750 nodes", "width": 225, "height": 333, "data": {"name": "p750"}, "mark": {"type": "line", "strokeWidth": 1.4},
 "encoding": {
  "x": {"field": "t", "type": "quantitative", "scale": {"domain": [-87, 1808], "nice": false, "zero": false}, "axis": {"values": [0,500,1000,1500], "format": "d", "title": "Time (s)"}},
  "y": {"field": "v", "type": "quantitative", "scale": {"domain": [-4.1, 99.9], "nice": false, "zero": false}, "axis": {"values": [0,20,40,60,80], "title": "Average network cost per node (kbit)"}},
  "color": {"field": "s", "type": "nominal", "scale": {"domain": ["Cyclon","X-Bot","DeMMon","Cyclon w/ T-Man","Hyparview"], "range": ["#ff0000","#00bfbf","#0000ff","#bf00bf","#008000"]}}
 }}
],
"resolve": {"scale": {"color": "shared"}},
"config": {
 "font": "DejaVu Sans",
 "view": {"stroke": "#444", "strokeWidth": 1},
 "axis": {"domain": false, "grid": false, "tickColor": "#000", "tickSize": 3.5, "tickWidth": 0.8, "labelFontSize": 10.2, "labelColor": "#000", "labelPadding": 3, "labelFont": "DejaVu Sans", "titleFont": "DejaVu Sans", "titleFontSize": 14.4, "titleFontWeight": "normal", "titleColor": "#000"},
 "axisX": {"titlePadding": 5, "labelFlush": false},
 "axisY": {"titlePadding": 7},
 "title": {"fontSize": 14.4, "fontWeight": "normal", "font": "DejaVu Sans", "color": "#000", "offset": 2},
 "legend": {"orient": "none", "legendX": 292, "legendY": 404, "columns": 3, "title": null, "symbolType": "M-1,0H5", "symbolSize": 100, "symbolStrokeWidth": 1.5, "labelFontSize": 14.4, "labelFont": "DejaVu Sans", "labelColor": "#000", "labelLimit": 300, "labelOffset": 28, "columnPadding": 29, "rowPadding": 6, "padding": 6, "strokeColor": "#ccc", "fillColor": "white", "cornerRadius": 3}
}
}
